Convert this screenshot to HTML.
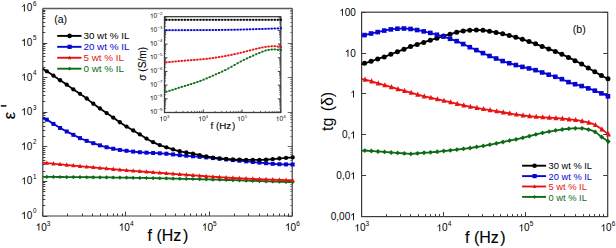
<!DOCTYPE html>
<html><head><meta charset="utf-8"><style>
html,body{margin:0;padding:0;background:#fff;}
body{width:616px;height:248px;overflow:hidden;}
svg{display:block;font-family:"Liberation Sans", sans-serif;}
text{stroke-width:0;}
.b{stroke-width:0.12px;}
.c{stroke-width:0.1px;}
</style></head><body>
<svg width="616" height="248" viewBox="0 0 616 248">
<rect width="616" height="248" fill="#fff"/>
<line x1="42.8" y1="216.5" x2="47.3" y2="216.5" stroke="#3c3c3c" stroke-width="1"/>
<line x1="292.2" y1="216.5" x2="287.7" y2="216.5" stroke="#6a6a6a" stroke-width="1"/>
<line x1="42.8" y1="205.5" x2="45.3" y2="205.5" stroke="#3c3c3c" stroke-width="1"/>
<line x1="292.2" y1="205.5" x2="290" y2="205.5" stroke="#999999" stroke-width="1"/>
<line x1="42.8" y1="199.5" x2="45.3" y2="199.5" stroke="#3c3c3c" stroke-width="1"/>
<line x1="292.2" y1="199.5" x2="290" y2="199.5" stroke="#999999" stroke-width="1"/>
<line x1="42.8" y1="195.5" x2="45.3" y2="195.5" stroke="#3c3c3c" stroke-width="1"/>
<line x1="292.2" y1="195.5" x2="290" y2="195.5" stroke="#999999" stroke-width="1"/>
<line x1="42.8" y1="191.5" x2="45.3" y2="191.5" stroke="#3c3c3c" stroke-width="1"/>
<line x1="292.2" y1="191.5" x2="290" y2="191.5" stroke="#999999" stroke-width="1"/>
<line x1="42.8" y1="189.5" x2="45.3" y2="189.5" stroke="#3c3c3c" stroke-width="1"/>
<line x1="292.2" y1="189.5" x2="290" y2="189.5" stroke="#999999" stroke-width="1"/>
<line x1="42.8" y1="186.5" x2="45.3" y2="186.5" stroke="#3c3c3c" stroke-width="1"/>
<line x1="292.2" y1="186.5" x2="290" y2="186.5" stroke="#999999" stroke-width="1"/>
<line x1="42.8" y1="184.5" x2="45.3" y2="184.5" stroke="#3c3c3c" stroke-width="1"/>
<line x1="292.2" y1="184.5" x2="290" y2="184.5" stroke="#999999" stroke-width="1"/>
<line x1="42.8" y1="182.5" x2="45.3" y2="182.5" stroke="#3c3c3c" stroke-width="1"/>
<line x1="292.2" y1="182.5" x2="290" y2="182.5" stroke="#999999" stroke-width="1"/>
<line x1="42.8" y1="181.5" x2="47.3" y2="181.5" stroke="#3c3c3c" stroke-width="1"/>
<line x1="292.2" y1="181.5" x2="287.7" y2="181.5" stroke="#6a6a6a" stroke-width="1"/>
<line x1="42.8" y1="171.5" x2="45.3" y2="171.5" stroke="#3c3c3c" stroke-width="1"/>
<line x1="292.2" y1="171.5" x2="290" y2="171.5" stroke="#999999" stroke-width="1"/>
<line x1="42.8" y1="164.5" x2="45.3" y2="164.5" stroke="#3c3c3c" stroke-width="1"/>
<line x1="292.2" y1="164.5" x2="290" y2="164.5" stroke="#999999" stroke-width="1"/>
<line x1="42.8" y1="160.5" x2="45.3" y2="160.5" stroke="#3c3c3c" stroke-width="1"/>
<line x1="292.2" y1="160.5" x2="290" y2="160.5" stroke="#999999" stroke-width="1"/>
<line x1="42.8" y1="157.5" x2="45.3" y2="157.5" stroke="#3c3c3c" stroke-width="1"/>
<line x1="292.2" y1="157.5" x2="290" y2="157.5" stroke="#999999" stroke-width="1"/>
<line x1="42.8" y1="154.5" x2="45.3" y2="154.5" stroke="#3c3c3c" stroke-width="1"/>
<line x1="292.2" y1="154.5" x2="290" y2="154.5" stroke="#999999" stroke-width="1"/>
<line x1="42.8" y1="152.5" x2="45.3" y2="152.5" stroke="#3c3c3c" stroke-width="1"/>
<line x1="292.2" y1="152.5" x2="290" y2="152.5" stroke="#999999" stroke-width="1"/>
<line x1="42.8" y1="150.5" x2="45.3" y2="150.5" stroke="#3c3c3c" stroke-width="1"/>
<line x1="292.2" y1="150.5" x2="290" y2="150.5" stroke="#999999" stroke-width="1"/>
<line x1="42.8" y1="148.5" x2="45.3" y2="148.5" stroke="#3c3c3c" stroke-width="1"/>
<line x1="292.2" y1="148.5" x2="290" y2="148.5" stroke="#999999" stroke-width="1"/>
<line x1="42.8" y1="146.5" x2="47.3" y2="146.5" stroke="#3c3c3c" stroke-width="1"/>
<line x1="292.2" y1="146.5" x2="287.7" y2="146.5" stroke="#6a6a6a" stroke-width="1"/>
<line x1="42.8" y1="136.5" x2="45.3" y2="136.5" stroke="#3c3c3c" stroke-width="1"/>
<line x1="292.2" y1="136.5" x2="290" y2="136.5" stroke="#999999" stroke-width="1"/>
<line x1="42.8" y1="130.5" x2="45.3" y2="130.5" stroke="#3c3c3c" stroke-width="1"/>
<line x1="292.2" y1="130.5" x2="290" y2="130.5" stroke="#999999" stroke-width="1"/>
<line x1="42.8" y1="126.5" x2="45.3" y2="126.5" stroke="#3c3c3c" stroke-width="1"/>
<line x1="292.2" y1="126.5" x2="290" y2="126.5" stroke="#999999" stroke-width="1"/>
<line x1="42.8" y1="122.5" x2="45.3" y2="122.5" stroke="#3c3c3c" stroke-width="1"/>
<line x1="292.2" y1="122.5" x2="290" y2="122.5" stroke="#999999" stroke-width="1"/>
<line x1="42.8" y1="119.5" x2="45.3" y2="119.5" stroke="#3c3c3c" stroke-width="1"/>
<line x1="292.2" y1="119.5" x2="290" y2="119.5" stroke="#999999" stroke-width="1"/>
<line x1="42.8" y1="117.5" x2="45.3" y2="117.5" stroke="#3c3c3c" stroke-width="1"/>
<line x1="292.2" y1="117.5" x2="290" y2="117.5" stroke="#999999" stroke-width="1"/>
<line x1="42.8" y1="115.5" x2="45.3" y2="115.5" stroke="#3c3c3c" stroke-width="1"/>
<line x1="292.2" y1="115.5" x2="290" y2="115.5" stroke="#999999" stroke-width="1"/>
<line x1="42.8" y1="113.5" x2="45.3" y2="113.5" stroke="#3c3c3c" stroke-width="1"/>
<line x1="292.2" y1="113.5" x2="290" y2="113.5" stroke="#999999" stroke-width="1"/>
<line x1="42.8" y1="112.5" x2="47.3" y2="112.5" stroke="#3c3c3c" stroke-width="1"/>
<line x1="292.2" y1="112.5" x2="287.7" y2="112.5" stroke="#6a6a6a" stroke-width="1"/>
<line x1="42.8" y1="101.5" x2="45.3" y2="101.5" stroke="#3c3c3c" stroke-width="1"/>
<line x1="292.2" y1="101.5" x2="290" y2="101.5" stroke="#999999" stroke-width="1"/>
<line x1="42.8" y1="95.5" x2="45.3" y2="95.5" stroke="#3c3c3c" stroke-width="1"/>
<line x1="292.2" y1="95.5" x2="290" y2="95.5" stroke="#999999" stroke-width="1"/>
<line x1="42.8" y1="91.5" x2="45.3" y2="91.5" stroke="#3c3c3c" stroke-width="1"/>
<line x1="292.2" y1="91.5" x2="290" y2="91.5" stroke="#999999" stroke-width="1"/>
<line x1="42.8" y1="88.5" x2="45.3" y2="88.5" stroke="#3c3c3c" stroke-width="1"/>
<line x1="292.2" y1="88.5" x2="290" y2="88.5" stroke="#999999" stroke-width="1"/>
<line x1="42.8" y1="85.5" x2="45.3" y2="85.5" stroke="#3c3c3c" stroke-width="1"/>
<line x1="292.2" y1="85.5" x2="290" y2="85.5" stroke="#999999" stroke-width="1"/>
<line x1="42.8" y1="83.5" x2="45.3" y2="83.5" stroke="#3c3c3c" stroke-width="1"/>
<line x1="292.2" y1="83.5" x2="290" y2="83.5" stroke="#999999" stroke-width="1"/>
<line x1="42.8" y1="81.5" x2="45.3" y2="81.5" stroke="#3c3c3c" stroke-width="1"/>
<line x1="292.2" y1="81.5" x2="290" y2="81.5" stroke="#999999" stroke-width="1"/>
<line x1="42.8" y1="79.5" x2="45.3" y2="79.5" stroke="#3c3c3c" stroke-width="1"/>
<line x1="292.2" y1="79.5" x2="290" y2="79.5" stroke="#999999" stroke-width="1"/>
<line x1="42.8" y1="77.5" x2="47.3" y2="77.5" stroke="#3c3c3c" stroke-width="1"/>
<line x1="292.2" y1="77.5" x2="287.7" y2="77.5" stroke="#6a6a6a" stroke-width="1"/>
<line x1="42.8" y1="67.5" x2="45.3" y2="67.5" stroke="#3c3c3c" stroke-width="1"/>
<line x1="292.2" y1="67.5" x2="290" y2="67.5" stroke="#999999" stroke-width="1"/>
<line x1="42.8" y1="61.5" x2="45.3" y2="61.5" stroke="#3c3c3c" stroke-width="1"/>
<line x1="292.2" y1="61.5" x2="290" y2="61.5" stroke="#999999" stroke-width="1"/>
<line x1="42.8" y1="56.5" x2="45.3" y2="56.5" stroke="#3c3c3c" stroke-width="1"/>
<line x1="292.2" y1="56.5" x2="290" y2="56.5" stroke="#999999" stroke-width="1"/>
<line x1="42.8" y1="53.5" x2="45.3" y2="53.5" stroke="#3c3c3c" stroke-width="1"/>
<line x1="292.2" y1="53.5" x2="290" y2="53.5" stroke="#999999" stroke-width="1"/>
<line x1="42.8" y1="50.5" x2="45.3" y2="50.5" stroke="#3c3c3c" stroke-width="1"/>
<line x1="292.2" y1="50.5" x2="290" y2="50.5" stroke="#999999" stroke-width="1"/>
<line x1="42.8" y1="48.5" x2="45.3" y2="48.5" stroke="#3c3c3c" stroke-width="1"/>
<line x1="292.2" y1="48.5" x2="290" y2="48.5" stroke="#999999" stroke-width="1"/>
<line x1="42.8" y1="46.5" x2="45.3" y2="46.5" stroke="#3c3c3c" stroke-width="1"/>
<line x1="292.2" y1="46.5" x2="290" y2="46.5" stroke="#999999" stroke-width="1"/>
<line x1="42.8" y1="44.5" x2="45.3" y2="44.5" stroke="#3c3c3c" stroke-width="1"/>
<line x1="292.2" y1="44.5" x2="290" y2="44.5" stroke="#999999" stroke-width="1"/>
<line x1="42.8" y1="43.5" x2="47.3" y2="43.5" stroke="#3c3c3c" stroke-width="1"/>
<line x1="292.2" y1="43.5" x2="287.7" y2="43.5" stroke="#6a6a6a" stroke-width="1"/>
<line x1="42.8" y1="32.5" x2="45.3" y2="32.5" stroke="#3c3c3c" stroke-width="1"/>
<line x1="292.2" y1="32.5" x2="290" y2="32.5" stroke="#999999" stroke-width="1"/>
<line x1="42.8" y1="26.5" x2="45.3" y2="26.5" stroke="#3c3c3c" stroke-width="1"/>
<line x1="292.2" y1="26.5" x2="290" y2="26.5" stroke="#999999" stroke-width="1"/>
<line x1="42.8" y1="22.5" x2="45.3" y2="22.5" stroke="#3c3c3c" stroke-width="1"/>
<line x1="292.2" y1="22.5" x2="290" y2="22.5" stroke="#999999" stroke-width="1"/>
<line x1="42.8" y1="18.5" x2="45.3" y2="18.5" stroke="#3c3c3c" stroke-width="1"/>
<line x1="292.2" y1="18.5" x2="290" y2="18.5" stroke="#999999" stroke-width="1"/>
<line x1="42.8" y1="16.5" x2="45.3" y2="16.5" stroke="#3c3c3c" stroke-width="1"/>
<line x1="292.2" y1="16.5" x2="290" y2="16.5" stroke="#999999" stroke-width="1"/>
<line x1="42.8" y1="13.5" x2="45.3" y2="13.5" stroke="#3c3c3c" stroke-width="1"/>
<line x1="292.2" y1="13.5" x2="290" y2="13.5" stroke="#999999" stroke-width="1"/>
<line x1="42.8" y1="11.5" x2="45.3" y2="11.5" stroke="#3c3c3c" stroke-width="1"/>
<line x1="292.2" y1="11.5" x2="290" y2="11.5" stroke="#999999" stroke-width="1"/>
<line x1="42.8" y1="10.5" x2="45.3" y2="10.5" stroke="#3c3c3c" stroke-width="1"/>
<line x1="292.2" y1="10.5" x2="290" y2="10.5" stroke="#999999" stroke-width="1"/>
<line x1="42.8" y1="8.5" x2="47.3" y2="8.5" stroke="#3c3c3c" stroke-width="1"/>
<line x1="292.2" y1="8.5" x2="287.7" y2="8.5" stroke="#6a6a6a" stroke-width="1"/>
<line x1="42.5" y1="216" x2="42.5" y2="211.5" stroke="#3c3c3c" stroke-width="1"/>
<line x1="67.5" y1="216" x2="67.5" y2="213.5" stroke="#3c3c3c" stroke-width="1"/>
<line x1="82.5" y1="216" x2="82.5" y2="213.5" stroke="#3c3c3c" stroke-width="1"/>
<line x1="92.5" y1="216" x2="92.5" y2="213.5" stroke="#3c3c3c" stroke-width="1"/>
<line x1="100.5" y1="216" x2="100.5" y2="213.5" stroke="#3c3c3c" stroke-width="1"/>
<line x1="107.5" y1="216" x2="107.5" y2="213.5" stroke="#3c3c3c" stroke-width="1"/>
<line x1="113.5" y1="216" x2="113.5" y2="213.5" stroke="#3c3c3c" stroke-width="1"/>
<line x1="117.5" y1="216" x2="117.5" y2="213.5" stroke="#3c3c3c" stroke-width="1"/>
<line x1="122.5" y1="216" x2="122.5" y2="213.5" stroke="#3c3c3c" stroke-width="1"/>
<line x1="125.5" y1="216" x2="125.5" y2="211.5" stroke="#3c3c3c" stroke-width="1"/>
<line x1="150.5" y1="216" x2="150.5" y2="213.5" stroke="#3c3c3c" stroke-width="1"/>
<line x1="165.5" y1="216" x2="165.5" y2="213.5" stroke="#3c3c3c" stroke-width="1"/>
<line x1="175.5" y1="216" x2="175.5" y2="213.5" stroke="#3c3c3c" stroke-width="1"/>
<line x1="184.5" y1="216" x2="184.5" y2="213.5" stroke="#3c3c3c" stroke-width="1"/>
<line x1="190.5" y1="216" x2="190.5" y2="213.5" stroke="#3c3c3c" stroke-width="1"/>
<line x1="196.5" y1="216" x2="196.5" y2="213.5" stroke="#3c3c3c" stroke-width="1"/>
<line x1="201.5" y1="216" x2="201.5" y2="213.5" stroke="#3c3c3c" stroke-width="1"/>
<line x1="205.5" y1="216" x2="205.5" y2="213.5" stroke="#3c3c3c" stroke-width="1"/>
<line x1="209.5" y1="216" x2="209.5" y2="211.5" stroke="#3c3c3c" stroke-width="1"/>
<line x1="234.5" y1="216" x2="234.5" y2="213.5" stroke="#3c3c3c" stroke-width="1"/>
<line x1="248.5" y1="216" x2="248.5" y2="213.5" stroke="#3c3c3c" stroke-width="1"/>
<line x1="259.5" y1="216" x2="259.5" y2="213.5" stroke="#3c3c3c" stroke-width="1"/>
<line x1="267.5" y1="216" x2="267.5" y2="213.5" stroke="#3c3c3c" stroke-width="1"/>
<line x1="273.5" y1="216" x2="273.5" y2="213.5" stroke="#3c3c3c" stroke-width="1"/>
<line x1="279.5" y1="216" x2="279.5" y2="213.5" stroke="#3c3c3c" stroke-width="1"/>
<line x1="284.5" y1="216" x2="284.5" y2="213.5" stroke="#3c3c3c" stroke-width="1"/>
<line x1="288.5" y1="216" x2="288.5" y2="213.5" stroke="#3c3c3c" stroke-width="1"/>
<line x1="292.5" y1="216" x2="292.5" y2="211.5" stroke="#3c3c3c" stroke-width="1"/>
<line x1="42.8" y1="8.5" x2="292.2" y2="8.5" stroke="#5a5a5a" stroke-width="1.3"/>
<path d="M292.2 8.5 V216.0 H42.8 V8.5" fill="none" stroke="#3c3c3c" stroke-width="1.2" stroke-linejoin="miter"/>
<path d="M24.8 218.9L23.92 218.9L23.92 213.3C23.7 213.51 23.42 213.72 23.07 213.93C22.72 214.13 22.41 214.29 22.13 214.4L22.13 213.55C22.61 213.32 23.03 213.05 23.39 212.73C23.75 212.41 24.01 212.08 24.16 211.74L24.8 211.74Z" fill="#000"/>
<text x="26.63" y="218.9" font-size="10" fill="#000" stroke="#000">0</text>
<text x="33" y="213.3" font-size="6.3" fill="#000" stroke="#000">0</text>
<path d="M24.8 184.32L23.92 184.32L23.92 178.72C23.7 178.93 23.42 179.14 23.07 179.35C22.72 179.55 22.41 179.71 22.13 179.82L22.13 178.97C22.61 178.74 23.03 178.47 23.39 178.15C23.75 177.83 24.01 177.5 24.16 177.16L24.8 177.16Z" fill="#000"/>
<text x="26.63" y="184.32" font-size="10" fill="#000" stroke="#000">0</text>
<text x="33" y="178.72" font-size="6.3" fill="#000" stroke="#000">1</text>
<path d="M24.8 149.73L23.92 149.73L23.92 144.13C23.7 144.34 23.42 144.55 23.07 144.76C22.72 144.96 22.41 145.12 22.13 145.23L22.13 144.38C22.61 144.15 23.03 143.88 23.39 143.56C23.75 143.24 24.01 142.91 24.16 142.57L24.8 142.57Z" fill="#000"/>
<text x="26.63" y="149.73" font-size="10" fill="#000" stroke="#000">0</text>
<text x="33" y="144.13" font-size="6.3" fill="#000" stroke="#000">2</text>
<path d="M24.8 115.15L23.92 115.15L23.92 109.55C23.7 109.76 23.42 109.97 23.07 110.18C22.72 110.38 22.41 110.54 22.13 110.65L22.13 109.8C22.61 109.57 23.03 109.3 23.39 108.98C23.75 108.66 24.01 108.33 24.16 107.99L24.8 107.99Z" fill="#000"/>
<text x="26.63" y="115.15" font-size="10" fill="#000" stroke="#000">0</text>
<text x="33" y="109.55" font-size="6.3" fill="#000" stroke="#000">3</text>
<path d="M24.8 80.57L23.92 80.57L23.92 74.97C23.7 75.18 23.42 75.39 23.07 75.6C22.72 75.8 22.41 75.96 22.13 76.07L22.13 75.22C22.61 74.99 23.03 74.72 23.39 74.4C23.75 74.08 24.01 73.75 24.16 73.41L24.8 73.41Z" fill="#000"/>
<text x="26.63" y="80.57" font-size="10" fill="#000" stroke="#000">0</text>
<text x="33" y="74.97" font-size="6.3" fill="#000" stroke="#000">4</text>
<path d="M24.8 45.98L23.92 45.98L23.92 40.38C23.7 40.59 23.42 40.8 23.07 41.01C22.72 41.21 22.41 41.37 22.13 41.48L22.13 40.63C22.61 40.4 23.03 40.13 23.39 39.81C23.75 39.49 24.01 39.16 24.16 38.82L24.8 38.82Z" fill="#000"/>
<text x="26.63" y="45.98" font-size="10" fill="#000" stroke="#000">0</text>
<text x="33" y="40.38" font-size="6.3" fill="#000" stroke="#000">5</text>
<path d="M24.8 11.4L23.92 11.4L23.92 5.8C23.7 6.01 23.42 6.22 23.07 6.43C22.72 6.63 22.41 6.79 22.13 6.9L22.13 6.05C22.61 5.82 23.03 5.55 23.39 5.23C23.75 4.91 24.01 4.58 24.16 4.24L24.8 4.24Z" fill="#000"/>
<text x="26.63" y="11.4" font-size="10" fill="#000" stroke="#000">0</text>
<text x="33" y="5.8" font-size="6.3" fill="#000" stroke="#000">6</text>
<path d="M39.37 230.5L38.49 230.5L38.49 224.9C38.27 225.11 37.99 225.32 37.64 225.53C37.29 225.73 36.98 225.89 36.7 226L36.7 225.15C37.18 224.92 37.6 224.65 37.96 224.33C38.32 224.01 38.58 223.68 38.73 223.34L39.37 223.34Z" fill="#000"/>
<text x="41.2" y="230.5" font-size="10" fill="#000" stroke="#000">0</text>
<text x="46.8" y="225.6" font-size="6.5" fill="#000" stroke="#000">3</text>
<path d="M122.5 230.5L121.62 230.5L121.62 224.9C121.4 225.11 121.12 225.32 120.77 225.53C120.42 225.73 120.11 225.89 119.83 226L119.83 225.15C120.31 224.92 120.73 224.65 121.09 224.33C121.45 224.01 121.71 223.68 121.86 223.34L122.5 223.34Z" fill="#000"/>
<text x="124.33" y="230.5" font-size="10" fill="#000" stroke="#000">0</text>
<text x="129.93" y="225.6" font-size="6.5" fill="#000" stroke="#000">4</text>
<path d="M205.64 230.5L204.76 230.5L204.76 224.9C204.54 225.11 204.26 225.32 203.91 225.53C203.56 225.73 203.25 225.89 202.97 226L202.97 225.15C203.45 224.92 203.87 224.65 204.23 224.33C204.59 224.01 204.85 223.68 205 223.34L205.64 223.34Z" fill="#000"/>
<text x="207.47" y="230.5" font-size="10" fill="#000" stroke="#000">0</text>
<text x="213.07" y="225.6" font-size="6.5" fill="#000" stroke="#000">5</text>
<path d="M288.77 230.5L287.89 230.5L287.89 224.9C287.67 225.11 287.39 225.32 287.04 225.53C286.69 225.73 286.38 225.89 286.1 226L286.1 225.15C286.58 224.92 287 224.65 287.36 224.33C287.72 224.01 287.98 223.68 288.13 223.34L288.77 223.34Z" fill="#000"/>
<text x="290.6" y="230.5" font-size="10" fill="#000" stroke="#000">0</text>
<text x="296.2" y="225.6" font-size="6.5" fill="#000" stroke="#000">6</text>
<path d="M42.8 176.9 L44.37 176.91 L45.94 176.92 L47.51 176.92 L49.07 176.93 L50.64 176.94 L52.21 176.95 L53.78 176.96 L55.35 176.97 L56.92 176.98 L58.49 176.99 L60.05 177 L61.62 177.01 L63.19 177.02 L64.76 177.04 L66.33 177.05 L67.9 177.06 L69.47 177.07 L71.03 177.08 L72.6 177.1 L74.17 177.11 L75.74 177.12 L77.31 177.14 L78.88 177.15 L80.45 177.17 L82.01 177.18 L83.58 177.2 L85.15 177.21 L86.72 177.23 L88.29 177.24 L89.86 177.26 L91.43 177.27 L92.99 177.29 L94.56 177.3 L96.13 177.32 L97.7 177.33 L99.27 177.35 L100.84 177.37 L102.41 177.38 L103.97 177.4 L105.54 177.42 L107.11 177.43 L108.68 177.45 L110.25 177.47 L111.82 177.49 L113.38 177.51 L114.95 177.53 L116.52 177.55 L118.09 177.57 L119.66 177.59 L121.23 177.61 L122.8 177.63 L124.36 177.66 L125.93 177.68 L127.5 177.7 L129.07 177.73 L130.64 177.75 L132.21 177.77 L133.78 177.8 L135.34 177.82 L136.91 177.85 L138.48 177.88 L140.05 177.9 L141.62 177.93 L143.19 177.95 L144.76 177.98 L146.32 178.01 L147.89 178.04 L149.46 178.07 L151.03 178.1 L152.6 178.13 L154.17 178.16 L155.74 178.19 L157.3 178.23 L158.87 178.26 L160.44 178.29 L162.01 178.33 L163.58 178.36 L165.15 178.39 L166.72 178.43 L168.28 178.46 L169.85 178.5 L171.42 178.53 L172.99 178.57 L174.56 178.6 L176.13 178.64 L177.7 178.67 L179.26 178.71 L180.83 178.75 L182.4 178.78 L183.97 178.82 L185.54 178.86 L187.11 178.89 L188.68 178.93 L190.24 178.97 L191.81 179.01 L193.38 179.04 L194.95 179.08 L196.52 179.12 L198.09 179.16 L199.66 179.2 L201.22 179.24 L202.79 179.28 L204.36 179.32 L205.93 179.36 L207.5 179.4 L209.07 179.45 L210.64 179.49 L212.2 179.53 L213.77 179.57 L215.34 179.62 L216.91 179.66 L218.48 179.7 L220.05 179.75 L221.62 179.79 L223.18 179.84 L224.75 179.88 L226.32 179.93 L227.89 179.98 L229.46 180.02 L231.03 180.07 L232.59 180.12 L234.16 180.17 L235.73 180.22 L237.3 180.27 L238.87 180.33 L240.44 180.38 L242.01 180.44 L243.57 180.5 L245.14 180.56 L246.71 180.62 L248.28 180.68 L249.85 180.74 L251.42 180.79 L252.99 180.85 L254.55 180.91 L256.12 180.97 L257.69 181.02 L259.26 181.08 L260.83 181.13 L262.4 181.18 L263.97 181.23 L265.53 181.28 L267.1 181.33 L268.67 181.38 L270.24 181.43 L271.81 181.48 L273.38 181.53 L274.95 181.58 L276.51 181.63 L278.08 181.68 L279.65 181.73 L281.22 181.78 L282.79 181.82 L284.36 181.87 L285.93 181.92 L287.49 181.96 L289.06 182.01 L290.63 182.05 L292.2 182.1" fill="none" stroke="#0d6b16" stroke-width="1.8" stroke-linejoin="round"/>
<g fill="#0d6b16"><path d="M46.8 174.83L48.89 176.92L46.8 179.01L44.71 176.92Z"/><path d="M53.44 174.87L55.53 176.96L53.44 179.05L51.35 176.96Z"/><path d="M60.09 174.91L62.18 177L60.09 179.09L58 177Z"/><path d="M66.73 174.96L68.83 177.05L66.73 179.14L64.64 177.05Z"/><path d="M73.38 175.01L75.47 177.1L73.38 179.19L71.29 177.1Z"/><path d="M80.02 175.07L82.11 177.16L80.02 179.25L77.93 177.16Z"/><path d="M86.67 175.13L88.76 177.22L86.67 179.31L84.58 177.22Z"/><path d="M93.31 175.2L95.41 177.29L93.31 179.38L91.22 177.29Z"/><path d="M99.96 175.27L102.05 177.36L99.96 179.45L97.87 177.36Z"/><path d="M106.6 175.34L108.69 177.43L106.6 179.52L104.51 177.43Z"/><path d="M113.25 175.42L115.34 177.51L113.25 179.6L111.16 177.51Z"/><path d="M119.89 175.5L121.98 177.59L119.89 179.68L117.8 177.59Z"/><path d="M126.54 175.6L128.63 177.69L126.54 179.78L124.45 177.69Z"/><path d="M133.19 175.7L135.28 177.79L133.19 179.88L131.09 177.79Z"/><path d="M139.83 175.81L141.92 177.9L139.83 179.99L137.74 177.9Z"/><path d="M146.47 175.92L148.56 178.01L146.47 180.1L144.38 178.01Z"/><path d="M153.12 176.05L155.21 178.14L153.12 180.23L151.03 178.14Z"/><path d="M159.76 176.19L161.85 178.28L159.76 180.37L157.67 178.28Z"/><path d="M166.41 176.33L168.5 178.42L166.41 180.51L164.32 178.42Z"/><path d="M173.06 176.48L175.15 178.57L173.06 180.66L170.97 178.57Z"/><path d="M179.7 176.63L181.79 178.72L179.7 180.81L177.61 178.72Z"/><path d="M186.34 176.78L188.43 178.87L186.34 180.96L184.25 178.87Z"/><path d="M192.99 176.94L195.08 179.03L192.99 181.12L190.9 179.03Z"/><path d="M199.63 177.11L201.72 179.2L199.63 181.29L197.54 179.2Z"/><path d="M206.28 177.28L208.37 179.37L206.28 181.46L204.19 179.37Z"/><path d="M212.93 177.46L215.02 179.55L212.93 181.64L210.84 179.55Z"/><path d="M219.57 177.64L221.66 179.73L219.57 181.82L217.48 179.73Z"/><path d="M226.21 177.84L228.3 179.93L226.21 182.02L224.12 179.93Z"/><path d="M232.86 178.04L234.95 180.13L232.86 182.22L230.77 180.13Z"/><path d="M239.5 178.26L241.59 180.35L239.5 182.44L237.41 180.35Z"/><path d="M246.15 178.51L248.24 180.6L246.15 182.69L244.06 180.6Z"/><path d="M252.79 178.76L254.88 180.85L252.79 182.94L250.7 180.85Z"/><path d="M259.44 178.99L261.53 181.08L259.44 183.17L257.35 181.08Z"/><path d="M266.08 179.21L268.17 181.3L266.08 183.39L264 181.3Z"/><path d="M272.73 179.42L274.82 181.51L272.73 183.6L270.64 181.51Z"/><path d="M279.38 179.63L281.46 181.72L279.38 183.81L277.29 181.72Z"/><path d="M286.02 179.83L288.11 181.92L286.02 184.01L283.93 181.92Z"/><path d="M292.66 180.02L294.75 182.11L292.66 184.2L290.57 182.11Z"/></g>
<path d="M42.8 162.7 L44.37 162.85 L45.94 163 L47.51 163.15 L49.07 163.3 L50.64 163.45 L52.21 163.6 L53.78 163.75 L55.35 163.9 L56.92 164.05 L58.49 164.2 L60.05 164.34 L61.62 164.49 L63.19 164.64 L64.76 164.79 L66.33 164.93 L67.9 165.08 L69.47 165.23 L71.03 165.37 L72.6 165.52 L74.17 165.66 L75.74 165.81 L77.31 165.95 L78.88 166.1 L80.45 166.24 L82.01 166.38 L83.58 166.53 L85.15 166.67 L86.72 166.81 L88.29 166.95 L89.86 167.1 L91.43 167.24 L92.99 167.38 L94.56 167.52 L96.13 167.66 L97.7 167.8 L99.27 167.94 L100.84 168.08 L102.41 168.22 L103.97 168.36 L105.54 168.5 L107.11 168.65 L108.68 168.79 L110.25 168.93 L111.82 169.08 L113.38 169.22 L114.95 169.36 L116.52 169.5 L118.09 169.64 L119.66 169.77 L121.23 169.9 L122.8 170.03 L124.36 170.16 L125.93 170.29 L127.5 170.41 L129.07 170.54 L130.64 170.66 L132.21 170.79 L133.78 170.91 L135.34 171.03 L136.91 171.15 L138.48 171.27 L140.05 171.39 L141.62 171.51 L143.19 171.63 L144.76 171.75 L146.32 171.87 L147.89 171.98 L149.46 172.1 L151.03 172.22 L152.6 172.33 L154.17 172.45 L155.74 172.56 L157.3 172.68 L158.87 172.79 L160.44 172.91 L162.01 173.02 L163.58 173.13 L165.15 173.25 L166.72 173.36 L168.28 173.48 L169.85 173.59 L171.42 173.7 L172.99 173.82 L174.56 173.93 L176.13 174.05 L177.7 174.17 L179.26 174.28 L180.83 174.4 L182.4 174.52 L183.97 174.63 L185.54 174.75 L187.11 174.87 L188.68 174.98 L190.24 175.1 L191.81 175.22 L193.38 175.33 L194.95 175.45 L196.52 175.57 L198.09 175.68 L199.66 175.79 L201.22 175.91 L202.79 176.02 L204.36 176.13 L205.93 176.24 L207.5 176.36 L209.07 176.46 L210.64 176.57 L212.2 176.68 L213.77 176.79 L215.34 176.89 L216.91 176.99 L218.48 177.09 L220.05 177.19 L221.62 177.29 L223.18 177.39 L224.75 177.49 L226.32 177.58 L227.89 177.67 L229.46 177.76 L231.03 177.85 L232.59 177.93 L234.16 178.02 L235.73 178.1 L237.3 178.18 L238.87 178.26 L240.44 178.34 L242.01 178.41 L243.57 178.49 L245.14 178.56 L246.71 178.63 L248.28 178.71 L249.85 178.78 L251.42 178.84 L252.99 178.91 L254.55 178.98 L256.12 179.04 L257.69 179.11 L259.26 179.17 L260.83 179.23 L262.4 179.29 L263.97 179.35 L265.53 179.41 L267.1 179.47 L268.67 179.53 L270.24 179.59 L271.81 179.65 L273.38 179.7 L274.95 179.76 L276.51 179.81 L278.08 179.87 L279.65 179.92 L281.22 179.97 L282.79 180.02 L284.36 180.07 L285.93 180.12 L287.49 180.16 L289.06 180.21 L290.63 180.26 L292.2 180.3" fill="none" stroke="#e81212" stroke-width="1.8" stroke-linejoin="round"/>
<g fill="#e81212"><path d="M46.8 160.48L48.9 164.78L44.7 164.78Z"/><path d="M53.44 161.12L55.54 165.42L51.34 165.42Z"/><path d="M60.09 161.75L62.19 166.05L57.99 166.05Z"/><path d="M66.73 162.37L68.83 166.67L64.64 166.67Z"/><path d="M73.38 162.99L75.48 167.29L71.28 167.29Z"/><path d="M80.02 163.6L82.12 167.9L77.92 167.9Z"/><path d="M86.67 164.21L88.77 168.51L84.57 168.51Z"/><path d="M93.31 164.81L95.41 169.11L91.22 169.11Z"/><path d="M99.96 165.4L102.06 169.7L97.86 169.7Z"/><path d="M106.6 166L108.7 170.3L104.5 170.3Z"/><path d="M113.25 166.61L115.35 170.91L111.15 170.91Z"/><path d="M119.89 167.19L121.99 171.49L117.8 171.49Z"/><path d="M126.54 167.74L128.64 172.04L124.44 172.04Z"/><path d="M133.19 168.26L135.28 172.56L131.09 172.56Z"/><path d="M139.83 168.78L141.93 173.08L137.73 173.08Z"/><path d="M146.47 169.28L148.57 173.58L144.38 173.58Z"/><path d="M153.12 169.77L155.22 174.07L151.02 174.07Z"/><path d="M159.76 170.26L161.86 174.56L157.66 174.56Z"/><path d="M166.41 170.74L168.51 175.04L164.31 175.04Z"/><path d="M173.06 171.22L175.16 175.52L170.96 175.52Z"/><path d="M179.7 171.71L181.8 176.01L177.6 176.01Z"/><path d="M186.34 172.21L188.44 176.51L184.24 176.51Z"/><path d="M192.99 172.71L195.09 177.01L190.89 177.01Z"/><path d="M199.63 173.19L201.73 177.49L197.53 177.49Z"/><path d="M206.28 173.67L208.38 177.97L204.18 177.97Z"/><path d="M212.93 174.13L215.03 178.43L210.83 178.43Z"/><path d="M219.57 174.56L221.67 178.86L217.47 178.86Z"/><path d="M226.21 174.97L228.31 179.27L224.11 179.27Z"/><path d="M232.86 175.35L234.96 179.65L230.76 179.65Z"/><path d="M239.5 175.69L241.6 179.99L237.41 179.99Z"/><path d="M246.15 176.01L248.25 180.31L244.05 180.31Z"/><path d="M252.79 176.3L254.89 180.6L250.69 180.6Z"/><path d="M259.44 176.58L261.54 180.88L257.34 180.88Z"/><path d="M266.08 176.84L268.19 181.14L263.98 181.14Z"/><path d="M272.73 177.08L274.83 181.38L270.63 181.38Z"/><path d="M279.38 177.31L281.48 181.61L277.27 181.61Z"/><path d="M286.02 177.52L288.12 181.82L283.92 181.82Z"/><path d="M292.66 177.71L294.76 182.01L290.56 182.01Z"/></g>
<path d="M42.8 117.5 L44.37 118.32 L45.94 119.19 L47.51 120.12 L49.07 121.11 L50.64 122.12 L52.21 123.14 L53.78 124.13 L55.35 125.11 L56.92 126.1 L58.49 127.05 L60.05 127.96 L61.62 128.82 L63.19 129.64 L64.76 130.46 L66.33 131.27 L67.9 132.07 L69.47 132.87 L71.03 133.66 L72.6 134.45 L74.17 135.25 L75.74 136.05 L77.31 136.85 L78.88 137.6 L80.45 138.31 L82.01 138.99 L83.58 139.65 L85.15 140.27 L86.72 140.87 L88.29 141.44 L89.86 141.99 L91.43 142.53 L92.99 143.07 L94.56 143.6 L96.13 144.12 L97.7 144.63 L99.27 145.13 L100.84 145.61 L102.41 146.08 L103.97 146.53 L105.54 146.95 L107.11 147.36 L108.68 147.74 L110.25 148.11 L111.82 148.45 L113.38 148.78 L114.95 149.09 L116.52 149.38 L118.09 149.65 L119.66 149.9 L121.23 150.12 L122.8 150.33 L124.36 150.52 L125.93 150.72 L127.5 150.91 L129.07 151.11 L130.64 151.31 L132.21 151.49 L133.78 151.68 L135.34 151.85 L136.91 152 L138.48 152.14 L140.05 152.26 L141.62 152.37 L143.19 152.47 L144.76 152.57 L146.32 152.65 L147.89 152.73 L149.46 152.81 L151.03 152.88 L152.6 152.95 L154.17 153.02 L155.74 153.1 L157.3 153.17 L158.87 153.25 L160.44 153.34 L162.01 153.43 L163.58 153.53 L165.15 153.64 L166.72 153.76 L168.28 153.9 L169.85 154.07 L171.42 154.24 L172.99 154.43 L174.56 154.62 L176.13 154.8 L177.7 154.97 L179.26 155.12 L180.83 155.27 L182.4 155.41 L183.97 155.54 L185.54 155.67 L187.11 155.8 L188.68 155.93 L190.24 156.05 L191.81 156.18 L193.38 156.32 L194.95 156.45 L196.52 156.58 L198.09 156.7 L199.66 156.84 L201.22 156.97 L202.79 157.1 L204.36 157.24 L205.93 157.39 L207.5 157.54 L209.07 157.69 L210.64 157.85 L212.2 158.01 L213.77 158.17 L215.34 158.33 L216.91 158.49 L218.48 158.65 L220.05 158.8 L221.62 158.96 L223.18 159.11 L224.75 159.27 L226.32 159.42 L227.89 159.58 L229.46 159.73 L231.03 159.89 L232.59 160.04 L234.16 160.19 L235.73 160.34 L237.3 160.5 L238.87 160.65 L240.44 160.8 L242.01 160.95 L243.57 161.11 L245.14 161.26 L246.71 161.41 L248.28 161.56 L249.85 161.72 L251.42 161.87 L252.99 162.02 L254.55 162.16 L256.12 162.31 L257.69 162.45 L259.26 162.59 L260.83 162.73 L262.4 162.87 L263.97 163.02 L265.53 163.17 L267.1 163.32 L268.67 163.47 L270.24 163.61 L271.81 163.74 L273.38 163.87 L274.95 163.98 L276.51 164.07 L278.08 164.15 L279.65 164.21 L281.22 164.27 L282.79 164.32 L284.36 164.37 L285.93 164.41 L287.49 164.45 L289.06 164.47 L290.63 164.49 L292.2 164.5" fill="none" stroke="#0606d2" stroke-width="1.8" stroke-linejoin="round"/>
<g fill="#0606d2"><rect x="44.8" y="117.69" width="4" height="4"/><rect x="51.44" y="121.92" width="4" height="4"/><rect x="58.09" y="125.98" width="4" height="4"/><rect x="64.73" y="129.48" width="4" height="4"/><rect x="71.38" y="132.84" width="4" height="4"/><rect x="78.02" y="136.13" width="4" height="4"/><rect x="84.67" y="138.85" width="4" height="4"/><rect x="91.31" y="141.18" width="4" height="4"/><rect x="97.96" y="143.34" width="4" height="4"/><rect x="104.6" y="145.23" width="4" height="4"/><rect x="111.25" y="146.75" width="4" height="4"/><rect x="117.89" y="147.93" width="4" height="4"/><rect x="124.54" y="148.79" width="4" height="4"/><rect x="131.19" y="149.61" width="4" height="4"/><rect x="137.83" y="150.25" width="4" height="4"/><rect x="144.47" y="150.66" width="4" height="4"/><rect x="151.12" y="150.98" width="4" height="4"/><rect x="157.76" y="151.3" width="4" height="4"/><rect x="164.41" y="151.73" width="4" height="4"/><rect x="171.06" y="152.44" width="4" height="4"/><rect x="177.7" y="153.17" width="4" height="4"/><rect x="184.34" y="153.74" width="4" height="4"/><rect x="190.99" y="154.28" width="4" height="4"/><rect x="197.63" y="154.83" width="4" height="4"/><rect x="204.28" y="155.42" width="4" height="4"/><rect x="210.93" y="156.08" width="4" height="4"/><rect x="217.57" y="156.76" width="4" height="4"/><rect x="224.21" y="157.41" width="4" height="4"/><rect x="230.86" y="158.07" width="4" height="4"/><rect x="237.5" y="158.71" width="4" height="4"/><rect x="244.15" y="159.36" width="4" height="4"/><rect x="250.79" y="160" width="4" height="4"/><rect x="257.44" y="160.6" width="4" height="4"/><rect x="264.08" y="161.23" width="4" height="4"/><rect x="270.73" y="161.82" width="4" height="4"/><rect x="277.38" y="162.2" width="4" height="4"/><rect x="284.02" y="162.41" width="4" height="4"/><rect x="290.66" y="162.5" width="4" height="4"/></g>
<path d="M42.8 68.8 L44.37 69.78 L45.94 70.78 L47.51 71.79 L49.07 72.8 L50.64 73.83 L52.21 74.87 L53.78 75.94 L55.35 77.02 L56.92 78.11 L58.49 79.18 L60.05 80.24 L61.62 81.27 L63.19 82.29 L64.76 83.32 L66.33 84.39 L67.9 85.5 L69.47 86.64 L71.03 87.78 L72.6 88.88 L74.17 89.92 L75.74 90.95 L77.31 91.97 L78.88 93.01 L80.45 94.08 L82.01 95.15 L83.58 96.25 L85.15 97.37 L86.72 98.55 L88.29 99.82 L89.86 101.1 L91.43 102.32 L92.99 103.49 L94.56 104.65 L96.13 105.78 L97.7 106.9 L99.27 108 L100.84 109.09 L102.41 110.18 L103.97 111.26 L105.54 112.33 L107.11 113.41 L108.68 114.49 L110.25 115.57 L111.82 116.66 L113.38 117.75 L114.95 118.85 L116.52 119.93 L118.09 121.02 L119.66 122.09 L121.23 123.14 L122.8 124.18 L124.36 125.2 L125.93 126.19 L127.5 127.15 L129.07 128.1 L130.64 129.02 L132.21 129.94 L133.78 130.85 L135.34 131.76 L136.91 132.67 L138.48 133.59 L140.05 134.53 L141.62 135.5 L143.19 136.49 L144.76 137.49 L146.32 138.48 L147.89 139.42 L149.46 140.31 L151.03 141.13 L152.6 141.93 L154.17 142.69 L155.74 143.42 L157.3 144.11 L158.87 144.76 L160.44 145.37 L162.01 145.92 L163.58 146.43 L165.15 146.93 L166.72 147.43 L168.28 147.94 L169.85 148.45 L171.42 148.95 L172.99 149.45 L174.56 149.92 L176.13 150.37 L177.7 150.79 L179.26 151.16 L180.83 151.5 L182.4 151.8 L183.97 152.09 L185.54 152.36 L187.11 152.63 L188.68 152.89 L190.24 153.17 L191.81 153.46 L193.38 153.78 L194.95 154.11 L196.52 154.45 L198.09 154.79 L199.66 155.13 L201.22 155.47 L202.79 155.78 L204.36 156.08 L205.93 156.36 L207.5 156.64 L209.07 156.91 L210.64 157.17 L212.2 157.42 L213.77 157.66 L215.34 157.88 L216.91 158.08 L218.48 158.25 L220.05 158.42 L221.62 158.58 L223.18 158.73 L224.75 158.87 L226.32 159 L227.89 159.11 L229.46 159.21 L231.03 159.3 L232.59 159.38 L234.16 159.45 L235.73 159.53 L237.3 159.59 L238.87 159.65 L240.44 159.7 L242.01 159.75 L243.57 159.78 L245.14 159.8 L246.71 159.82 L248.28 159.84 L249.85 159.85 L251.42 159.86 L252.99 159.88 L254.55 159.89 L256.12 159.89 L257.69 159.9 L259.26 159.9 L260.83 159.89 L262.4 159.84 L263.97 159.77 L265.53 159.69 L267.1 159.59 L268.67 159.49 L270.24 159.38 L271.81 159.26 L273.38 159.11 L274.95 158.94 L276.51 158.77 L278.08 158.61 L279.65 158.47 L281.22 158.34 L282.79 158.2 L284.36 158.08 L285.93 157.95 L287.49 157.83 L289.06 157.72 L290.63 157.61 L292.2 157.5" fill="none" stroke="#000000" stroke-width="1.8" stroke-linejoin="round"/>
<g fill="#000000"><circle cx="46.8" cy="71.33" r="2.15"/><circle cx="53.44" cy="75.71" r="2.15"/><circle cx="60.09" cy="80.26" r="2.15"/><circle cx="66.73" cy="84.67" r="2.15"/><circle cx="73.38" cy="89.4" r="2.15"/><circle cx="80.02" cy="93.79" r="2.15"/><circle cx="86.67" cy="98.51" r="2.15"/><circle cx="93.31" cy="103.73" r="2.15"/><circle cx="99.96" cy="108.48" r="2.15"/><circle cx="106.6" cy="113.06" r="2.15"/><circle cx="113.25" cy="117.66" r="2.15"/><circle cx="119.89" cy="122.25" r="2.15"/><circle cx="126.54" cy="126.56" r="2.15"/><circle cx="133.19" cy="130.51" r="2.15"/><circle cx="139.83" cy="134.4" r="2.15"/><circle cx="146.47" cy="138.57" r="2.15"/><circle cx="153.12" cy="142.18" r="2.15"/><circle cx="159.76" cy="145.11" r="2.15"/><circle cx="166.41" cy="147.33" r="2.15"/><circle cx="173.06" cy="149.47" r="2.15"/><circle cx="179.7" cy="151.26" r="2.15"/><circle cx="186.34" cy="152.5" r="2.15"/><circle cx="192.99" cy="153.7" r="2.15"/><circle cx="199.63" cy="155.13" r="2.15"/><circle cx="206.28" cy="156.43" r="2.15"/><circle cx="212.93" cy="157.53" r="2.15"/><circle cx="219.57" cy="158.37" r="2.15"/><circle cx="226.21" cy="158.99" r="2.15"/><circle cx="232.86" cy="159.39" r="2.15"/><circle cx="239.5" cy="159.67" r="2.15"/><circle cx="246.15" cy="159.81" r="2.15"/><circle cx="252.79" cy="159.88" r="2.15"/><circle cx="259.44" cy="159.9" r="2.15"/><circle cx="266.08" cy="159.65" r="2.15"/><circle cx="272.73" cy="159.17" r="2.15"/><circle cx="279.38" cy="158.49" r="2.15"/><circle cx="286.02" cy="157.95" r="2.15"/><circle cx="292.66" cy="157.47" r="2.15"/></g>
<text x="54.14" y="22.9" font-size="10.6" text-anchor="start" fill="#000" stroke="#000" >(a)</text>
<line x1="57.2" y1="35.9" x2="81.5" y2="35.9" stroke="#000000" stroke-width="1.9"/>
<g fill="#000000"><circle cx="69.6" cy="35.9" r="2.3"/></g>
<text x="83.4" y="39.4" font-size="9.9" text-anchor="start" fill="#000000" stroke="#000000" >30 wt % IL</text>
<line x1="57.2" y1="46.83" x2="81.5" y2="46.83" stroke="#0606d2" stroke-width="1.9"/>
<g fill="#0606d2"><rect x="67.5" y="44.73" width="4.2" height="4.2"/></g>
<text x="83.4" y="50.33" font-size="9.9" text-anchor="start" fill="#0606d2" stroke="#0606d2" >20 wt % IL</text>
<line x1="57.2" y1="57.76" x2="81.5" y2="57.76" stroke="#e81212" stroke-width="1.9"/>
<g fill="#e81212"><path d="M69.6 55.55L71.38 59.2L67.81 59.2Z"/></g>
<text x="83.4" y="61.26" font-size="9.9" text-anchor="start" fill="#e81212" stroke="#e81212" >5 wt % IL</text>
<line x1="57.2" y1="68.69" x2="81.5" y2="68.69" stroke="#0d6b16" stroke-width="1.9"/>
<g fill="#0d6b16"><path d="M69.6 66.82L71.47 68.69L69.6 70.56L67.73 68.69Z"/></g>
<text x="83.4" y="72.19" font-size="9.9" text-anchor="start" fill="#0d6b16" stroke="#0d6b16" >0 wt % IL</text>
<rect x="164.5" y="16.7" width="116.3" height="95.8" fill="#fff" stroke="none"/>
<line x1="164.5" y1="112.5" x2="167.5" y2="112.5" stroke="#3c3c3c" stroke-width="1"/>
<line x1="280.8" y1="112.5" x2="277.8" y2="112.5" stroke="#3c3c3c" stroke-width="1"/>
<line x1="164.5" y1="108.38" x2="166.1" y2="108.38" stroke="#3c3c3c" stroke-width="0.8"/>
<line x1="280.8" y1="108.38" x2="279.2" y2="108.38" stroke="#3c3c3c" stroke-width="0.8"/>
<line x1="164.5" y1="105.97" x2="166.1" y2="105.97" stroke="#3c3c3c" stroke-width="0.8"/>
<line x1="280.8" y1="105.97" x2="279.2" y2="105.97" stroke="#3c3c3c" stroke-width="0.8"/>
<line x1="164.5" y1="104.26" x2="166.1" y2="104.26" stroke="#3c3c3c" stroke-width="0.8"/>
<line x1="280.8" y1="104.26" x2="279.2" y2="104.26" stroke="#3c3c3c" stroke-width="0.8"/>
<line x1="164.5" y1="102.93" x2="166.1" y2="102.93" stroke="#3c3c3c" stroke-width="0.8"/>
<line x1="280.8" y1="102.93" x2="279.2" y2="102.93" stroke="#3c3c3c" stroke-width="0.8"/>
<line x1="164.5" y1="101.85" x2="166.1" y2="101.85" stroke="#3c3c3c" stroke-width="0.8"/>
<line x1="280.8" y1="101.85" x2="279.2" y2="101.85" stroke="#3c3c3c" stroke-width="0.8"/>
<line x1="164.5" y1="100.93" x2="166.1" y2="100.93" stroke="#3c3c3c" stroke-width="0.8"/>
<line x1="280.8" y1="100.93" x2="279.2" y2="100.93" stroke="#3c3c3c" stroke-width="0.8"/>
<line x1="164.5" y1="100.14" x2="166.1" y2="100.14" stroke="#3c3c3c" stroke-width="0.8"/>
<line x1="280.8" y1="100.14" x2="279.2" y2="100.14" stroke="#3c3c3c" stroke-width="0.8"/>
<line x1="164.5" y1="99.44" x2="166.1" y2="99.44" stroke="#3c3c3c" stroke-width="0.8"/>
<line x1="280.8" y1="99.44" x2="279.2" y2="99.44" stroke="#3c3c3c" stroke-width="0.8"/>
<line x1="164.5" y1="98.81" x2="167.5" y2="98.81" stroke="#3c3c3c" stroke-width="1"/>
<line x1="280.8" y1="98.81" x2="277.8" y2="98.81" stroke="#3c3c3c" stroke-width="1"/>
<line x1="164.5" y1="94.69" x2="166.1" y2="94.69" stroke="#3c3c3c" stroke-width="0.8"/>
<line x1="280.8" y1="94.69" x2="279.2" y2="94.69" stroke="#3c3c3c" stroke-width="0.8"/>
<line x1="164.5" y1="92.28" x2="166.1" y2="92.28" stroke="#3c3c3c" stroke-width="0.8"/>
<line x1="280.8" y1="92.28" x2="279.2" y2="92.28" stroke="#3c3c3c" stroke-width="0.8"/>
<line x1="164.5" y1="90.57" x2="166.1" y2="90.57" stroke="#3c3c3c" stroke-width="0.8"/>
<line x1="280.8" y1="90.57" x2="279.2" y2="90.57" stroke="#3c3c3c" stroke-width="0.8"/>
<line x1="164.5" y1="89.25" x2="166.1" y2="89.25" stroke="#3c3c3c" stroke-width="0.8"/>
<line x1="280.8" y1="89.25" x2="279.2" y2="89.25" stroke="#3c3c3c" stroke-width="0.8"/>
<line x1="164.5" y1="88.16" x2="166.1" y2="88.16" stroke="#3c3c3c" stroke-width="0.8"/>
<line x1="280.8" y1="88.16" x2="279.2" y2="88.16" stroke="#3c3c3c" stroke-width="0.8"/>
<line x1="164.5" y1="87.25" x2="166.1" y2="87.25" stroke="#3c3c3c" stroke-width="0.8"/>
<line x1="280.8" y1="87.25" x2="279.2" y2="87.25" stroke="#3c3c3c" stroke-width="0.8"/>
<line x1="164.5" y1="86.45" x2="166.1" y2="86.45" stroke="#3c3c3c" stroke-width="0.8"/>
<line x1="280.8" y1="86.45" x2="279.2" y2="86.45" stroke="#3c3c3c" stroke-width="0.8"/>
<line x1="164.5" y1="85.75" x2="166.1" y2="85.75" stroke="#3c3c3c" stroke-width="0.8"/>
<line x1="280.8" y1="85.75" x2="279.2" y2="85.75" stroke="#3c3c3c" stroke-width="0.8"/>
<line x1="164.5" y1="85.13" x2="167.5" y2="85.13" stroke="#3c3c3c" stroke-width="1"/>
<line x1="280.8" y1="85.13" x2="277.8" y2="85.13" stroke="#3c3c3c" stroke-width="1"/>
<line x1="164.5" y1="81.01" x2="166.1" y2="81.01" stroke="#3c3c3c" stroke-width="0.8"/>
<line x1="280.8" y1="81.01" x2="279.2" y2="81.01" stroke="#3c3c3c" stroke-width="0.8"/>
<line x1="164.5" y1="78.6" x2="166.1" y2="78.6" stroke="#3c3c3c" stroke-width="0.8"/>
<line x1="280.8" y1="78.6" x2="279.2" y2="78.6" stroke="#3c3c3c" stroke-width="0.8"/>
<line x1="164.5" y1="76.89" x2="166.1" y2="76.89" stroke="#3c3c3c" stroke-width="0.8"/>
<line x1="280.8" y1="76.89" x2="279.2" y2="76.89" stroke="#3c3c3c" stroke-width="0.8"/>
<line x1="164.5" y1="75.56" x2="166.1" y2="75.56" stroke="#3c3c3c" stroke-width="0.8"/>
<line x1="280.8" y1="75.56" x2="279.2" y2="75.56" stroke="#3c3c3c" stroke-width="0.8"/>
<line x1="164.5" y1="74.48" x2="166.1" y2="74.48" stroke="#3c3c3c" stroke-width="0.8"/>
<line x1="280.8" y1="74.48" x2="279.2" y2="74.48" stroke="#3c3c3c" stroke-width="0.8"/>
<line x1="164.5" y1="73.56" x2="166.1" y2="73.56" stroke="#3c3c3c" stroke-width="0.8"/>
<line x1="280.8" y1="73.56" x2="279.2" y2="73.56" stroke="#3c3c3c" stroke-width="0.8"/>
<line x1="164.5" y1="72.77" x2="166.1" y2="72.77" stroke="#3c3c3c" stroke-width="0.8"/>
<line x1="280.8" y1="72.77" x2="279.2" y2="72.77" stroke="#3c3c3c" stroke-width="0.8"/>
<line x1="164.5" y1="72.07" x2="166.1" y2="72.07" stroke="#3c3c3c" stroke-width="0.8"/>
<line x1="280.8" y1="72.07" x2="279.2" y2="72.07" stroke="#3c3c3c" stroke-width="0.8"/>
<line x1="164.5" y1="71.44" x2="167.5" y2="71.44" stroke="#3c3c3c" stroke-width="1"/>
<line x1="280.8" y1="71.44" x2="277.8" y2="71.44" stroke="#3c3c3c" stroke-width="1"/>
<line x1="164.5" y1="67.32" x2="166.1" y2="67.32" stroke="#3c3c3c" stroke-width="0.8"/>
<line x1="280.8" y1="67.32" x2="279.2" y2="67.32" stroke="#3c3c3c" stroke-width="0.8"/>
<line x1="164.5" y1="64.91" x2="166.1" y2="64.91" stroke="#3c3c3c" stroke-width="0.8"/>
<line x1="280.8" y1="64.91" x2="279.2" y2="64.91" stroke="#3c3c3c" stroke-width="0.8"/>
<line x1="164.5" y1="63.2" x2="166.1" y2="63.2" stroke="#3c3c3c" stroke-width="0.8"/>
<line x1="280.8" y1="63.2" x2="279.2" y2="63.2" stroke="#3c3c3c" stroke-width="0.8"/>
<line x1="164.5" y1="61.88" x2="166.1" y2="61.88" stroke="#3c3c3c" stroke-width="0.8"/>
<line x1="280.8" y1="61.88" x2="279.2" y2="61.88" stroke="#3c3c3c" stroke-width="0.8"/>
<line x1="164.5" y1="60.79" x2="166.1" y2="60.79" stroke="#3c3c3c" stroke-width="0.8"/>
<line x1="280.8" y1="60.79" x2="279.2" y2="60.79" stroke="#3c3c3c" stroke-width="0.8"/>
<line x1="164.5" y1="59.88" x2="166.1" y2="59.88" stroke="#3c3c3c" stroke-width="0.8"/>
<line x1="280.8" y1="59.88" x2="279.2" y2="59.88" stroke="#3c3c3c" stroke-width="0.8"/>
<line x1="164.5" y1="59.08" x2="166.1" y2="59.08" stroke="#3c3c3c" stroke-width="0.8"/>
<line x1="280.8" y1="59.08" x2="279.2" y2="59.08" stroke="#3c3c3c" stroke-width="0.8"/>
<line x1="164.5" y1="58.38" x2="166.1" y2="58.38" stroke="#3c3c3c" stroke-width="0.8"/>
<line x1="280.8" y1="58.38" x2="279.2" y2="58.38" stroke="#3c3c3c" stroke-width="0.8"/>
<line x1="164.5" y1="57.76" x2="167.5" y2="57.76" stroke="#3c3c3c" stroke-width="1"/>
<line x1="280.8" y1="57.76" x2="277.8" y2="57.76" stroke="#3c3c3c" stroke-width="1"/>
<line x1="164.5" y1="53.64" x2="166.1" y2="53.64" stroke="#3c3c3c" stroke-width="0.8"/>
<line x1="280.8" y1="53.64" x2="279.2" y2="53.64" stroke="#3c3c3c" stroke-width="0.8"/>
<line x1="164.5" y1="51.23" x2="166.1" y2="51.23" stroke="#3c3c3c" stroke-width="0.8"/>
<line x1="280.8" y1="51.23" x2="279.2" y2="51.23" stroke="#3c3c3c" stroke-width="0.8"/>
<line x1="164.5" y1="49.52" x2="166.1" y2="49.52" stroke="#3c3c3c" stroke-width="0.8"/>
<line x1="280.8" y1="49.52" x2="279.2" y2="49.52" stroke="#3c3c3c" stroke-width="0.8"/>
<line x1="164.5" y1="48.19" x2="166.1" y2="48.19" stroke="#3c3c3c" stroke-width="0.8"/>
<line x1="280.8" y1="48.19" x2="279.2" y2="48.19" stroke="#3c3c3c" stroke-width="0.8"/>
<line x1="164.5" y1="47.11" x2="166.1" y2="47.11" stroke="#3c3c3c" stroke-width="0.8"/>
<line x1="280.8" y1="47.11" x2="279.2" y2="47.11" stroke="#3c3c3c" stroke-width="0.8"/>
<line x1="164.5" y1="46.19" x2="166.1" y2="46.19" stroke="#3c3c3c" stroke-width="0.8"/>
<line x1="280.8" y1="46.19" x2="279.2" y2="46.19" stroke="#3c3c3c" stroke-width="0.8"/>
<line x1="164.5" y1="45.4" x2="166.1" y2="45.4" stroke="#3c3c3c" stroke-width="0.8"/>
<line x1="280.8" y1="45.4" x2="279.2" y2="45.4" stroke="#3c3c3c" stroke-width="0.8"/>
<line x1="164.5" y1="44.7" x2="166.1" y2="44.7" stroke="#3c3c3c" stroke-width="0.8"/>
<line x1="280.8" y1="44.7" x2="279.2" y2="44.7" stroke="#3c3c3c" stroke-width="0.8"/>
<line x1="164.5" y1="44.07" x2="167.5" y2="44.07" stroke="#3c3c3c" stroke-width="1"/>
<line x1="280.8" y1="44.07" x2="277.8" y2="44.07" stroke="#3c3c3c" stroke-width="1"/>
<line x1="164.5" y1="39.95" x2="166.1" y2="39.95" stroke="#3c3c3c" stroke-width="0.8"/>
<line x1="280.8" y1="39.95" x2="279.2" y2="39.95" stroke="#3c3c3c" stroke-width="0.8"/>
<line x1="164.5" y1="37.54" x2="166.1" y2="37.54" stroke="#3c3c3c" stroke-width="0.8"/>
<line x1="280.8" y1="37.54" x2="279.2" y2="37.54" stroke="#3c3c3c" stroke-width="0.8"/>
<line x1="164.5" y1="35.83" x2="166.1" y2="35.83" stroke="#3c3c3c" stroke-width="0.8"/>
<line x1="280.8" y1="35.83" x2="279.2" y2="35.83" stroke="#3c3c3c" stroke-width="0.8"/>
<line x1="164.5" y1="34.51" x2="166.1" y2="34.51" stroke="#3c3c3c" stroke-width="0.8"/>
<line x1="280.8" y1="34.51" x2="279.2" y2="34.51" stroke="#3c3c3c" stroke-width="0.8"/>
<line x1="164.5" y1="33.42" x2="166.1" y2="33.42" stroke="#3c3c3c" stroke-width="0.8"/>
<line x1="280.8" y1="33.42" x2="279.2" y2="33.42" stroke="#3c3c3c" stroke-width="0.8"/>
<line x1="164.5" y1="32.51" x2="166.1" y2="32.51" stroke="#3c3c3c" stroke-width="0.8"/>
<line x1="280.8" y1="32.51" x2="279.2" y2="32.51" stroke="#3c3c3c" stroke-width="0.8"/>
<line x1="164.5" y1="31.71" x2="166.1" y2="31.71" stroke="#3c3c3c" stroke-width="0.8"/>
<line x1="280.8" y1="31.71" x2="279.2" y2="31.71" stroke="#3c3c3c" stroke-width="0.8"/>
<line x1="164.5" y1="31.01" x2="166.1" y2="31.01" stroke="#3c3c3c" stroke-width="0.8"/>
<line x1="280.8" y1="31.01" x2="279.2" y2="31.01" stroke="#3c3c3c" stroke-width="0.8"/>
<line x1="164.5" y1="30.39" x2="167.5" y2="30.39" stroke="#3c3c3c" stroke-width="1"/>
<line x1="280.8" y1="30.39" x2="277.8" y2="30.39" stroke="#3c3c3c" stroke-width="1"/>
<line x1="164.5" y1="26.27" x2="166.1" y2="26.27" stroke="#3c3c3c" stroke-width="0.8"/>
<line x1="280.8" y1="26.27" x2="279.2" y2="26.27" stroke="#3c3c3c" stroke-width="0.8"/>
<line x1="164.5" y1="23.86" x2="166.1" y2="23.86" stroke="#3c3c3c" stroke-width="0.8"/>
<line x1="280.8" y1="23.86" x2="279.2" y2="23.86" stroke="#3c3c3c" stroke-width="0.8"/>
<line x1="164.5" y1="22.15" x2="166.1" y2="22.15" stroke="#3c3c3c" stroke-width="0.8"/>
<line x1="280.8" y1="22.15" x2="279.2" y2="22.15" stroke="#3c3c3c" stroke-width="0.8"/>
<line x1="164.5" y1="20.82" x2="166.1" y2="20.82" stroke="#3c3c3c" stroke-width="0.8"/>
<line x1="280.8" y1="20.82" x2="279.2" y2="20.82" stroke="#3c3c3c" stroke-width="0.8"/>
<line x1="164.5" y1="19.74" x2="166.1" y2="19.74" stroke="#3c3c3c" stroke-width="0.8"/>
<line x1="280.8" y1="19.74" x2="279.2" y2="19.74" stroke="#3c3c3c" stroke-width="0.8"/>
<line x1="164.5" y1="18.82" x2="166.1" y2="18.82" stroke="#3c3c3c" stroke-width="0.8"/>
<line x1="280.8" y1="18.82" x2="279.2" y2="18.82" stroke="#3c3c3c" stroke-width="0.8"/>
<line x1="164.5" y1="18.03" x2="166.1" y2="18.03" stroke="#3c3c3c" stroke-width="0.8"/>
<line x1="280.8" y1="18.03" x2="279.2" y2="18.03" stroke="#3c3c3c" stroke-width="0.8"/>
<line x1="164.5" y1="17.33" x2="166.1" y2="17.33" stroke="#3c3c3c" stroke-width="0.8"/>
<line x1="280.8" y1="17.33" x2="279.2" y2="17.33" stroke="#3c3c3c" stroke-width="0.8"/>
<line x1="164.5" y1="16.7" x2="167.5" y2="16.7" stroke="#3c3c3c" stroke-width="1"/>
<line x1="280.8" y1="16.7" x2="277.8" y2="16.7" stroke="#3c3c3c" stroke-width="1"/>
<line x1="164.5" y1="112.5" x2="164.5" y2="109.5" stroke="#3c3c3c" stroke-width="1"/>
<line x1="176.17" y1="112.5" x2="176.17" y2="110.9" stroke="#3c3c3c" stroke-width="0.8"/>
<line x1="183" y1="112.5" x2="183" y2="110.9" stroke="#3c3c3c" stroke-width="0.8"/>
<line x1="187.84" y1="112.5" x2="187.84" y2="110.9" stroke="#3c3c3c" stroke-width="0.8"/>
<line x1="191.6" y1="112.5" x2="191.6" y2="110.9" stroke="#3c3c3c" stroke-width="0.8"/>
<line x1="194.67" y1="112.5" x2="194.67" y2="110.9" stroke="#3c3c3c" stroke-width="0.8"/>
<line x1="197.26" y1="112.5" x2="197.26" y2="110.9" stroke="#3c3c3c" stroke-width="0.8"/>
<line x1="199.51" y1="112.5" x2="199.51" y2="110.9" stroke="#3c3c3c" stroke-width="0.8"/>
<line x1="201.49" y1="112.5" x2="201.49" y2="110.9" stroke="#3c3c3c" stroke-width="0.8"/>
<line x1="203.27" y1="112.5" x2="203.27" y2="109.5" stroke="#3c3c3c" stroke-width="1"/>
<line x1="214.94" y1="112.5" x2="214.94" y2="110.9" stroke="#3c3c3c" stroke-width="0.8"/>
<line x1="221.76" y1="112.5" x2="221.76" y2="110.9" stroke="#3c3c3c" stroke-width="0.8"/>
<line x1="226.61" y1="112.5" x2="226.61" y2="110.9" stroke="#3c3c3c" stroke-width="0.8"/>
<line x1="230.36" y1="112.5" x2="230.36" y2="110.9" stroke="#3c3c3c" stroke-width="0.8"/>
<line x1="233.43" y1="112.5" x2="233.43" y2="110.9" stroke="#3c3c3c" stroke-width="0.8"/>
<line x1="236.03" y1="112.5" x2="236.03" y2="110.9" stroke="#3c3c3c" stroke-width="0.8"/>
<line x1="238.28" y1="112.5" x2="238.28" y2="110.9" stroke="#3c3c3c" stroke-width="0.8"/>
<line x1="240.26" y1="112.5" x2="240.26" y2="110.9" stroke="#3c3c3c" stroke-width="0.8"/>
<line x1="242.03" y1="112.5" x2="242.03" y2="109.5" stroke="#3c3c3c" stroke-width="1"/>
<line x1="253.7" y1="112.5" x2="253.7" y2="110.9" stroke="#3c3c3c" stroke-width="0.8"/>
<line x1="260.53" y1="112.5" x2="260.53" y2="110.9" stroke="#3c3c3c" stroke-width="0.8"/>
<line x1="265.37" y1="112.5" x2="265.37" y2="110.9" stroke="#3c3c3c" stroke-width="0.8"/>
<line x1="269.13" y1="112.5" x2="269.13" y2="110.9" stroke="#3c3c3c" stroke-width="0.8"/>
<line x1="272.2" y1="112.5" x2="272.2" y2="110.9" stroke="#3c3c3c" stroke-width="0.8"/>
<line x1="274.79" y1="112.5" x2="274.79" y2="110.9" stroke="#3c3c3c" stroke-width="0.8"/>
<line x1="277.04" y1="112.5" x2="277.04" y2="110.9" stroke="#3c3c3c" stroke-width="0.8"/>
<line x1="279.03" y1="112.5" x2="279.03" y2="110.9" stroke="#3c3c3c" stroke-width="0.8"/>
<line x1="280.8" y1="112.5" x2="280.8" y2="109.5" stroke="#3c3c3c" stroke-width="1"/>
<rect x="164.5" y="16.7" width="116.3" height="95.8" fill="none" stroke="#3c3c3c" stroke-width="1.3"/>
<path d="M152.38 114.1L151.8 114.1L151.8 110.4C151.65 110.54 151.47 110.68 151.24 110.82C151.01 110.95 150.8 111.06 150.62 111.13L150.62 110.57C150.93 110.42 151.21 110.24 151.45 110.03C151.69 109.82 151.86 109.6 151.96 109.37L152.38 109.37Z" fill="#111"/>
<text x="153.59" y="114.1" font-size="6.6" fill="#111" stroke="#111">0</text>
<text x="157.4" y="110.7" font-size="4.3" fill="#111" stroke="#111">&#8722;9</text>
<path d="M152.38 100.41L151.8 100.41L151.8 96.72C151.65 96.86 151.47 97 151.24 97.13C151.01 97.27 150.8 97.37 150.62 97.44L150.62 96.88C150.93 96.73 151.21 96.55 151.45 96.34C151.69 96.13 151.86 95.91 151.96 95.69L152.38 95.69Z" fill="#111"/>
<text x="153.59" y="100.41" font-size="6.6" fill="#111" stroke="#111">0</text>
<text x="157.4" y="97.01" font-size="4.3" fill="#111" stroke="#111">&#8722;8</text>
<path d="M152.38 86.73L151.8 86.73L151.8 83.03C151.65 83.17 151.47 83.31 151.24 83.45C151.01 83.58 150.8 83.69 150.62 83.76L150.62 83.2C150.93 83.05 151.21 82.87 151.45 82.66C151.69 82.45 151.86 82.23 151.96 82L152.38 82Z" fill="#111"/>
<text x="153.59" y="86.73" font-size="6.6" fill="#111" stroke="#111">0</text>
<text x="157.4" y="83.33" font-size="4.3" fill="#111" stroke="#111">&#8722;7</text>
<path d="M152.38 73.04L151.8 73.04L151.8 69.35C151.65 69.49 151.47 69.62 151.24 69.76C151.01 69.89 150.8 70 150.62 70.07L150.62 69.51C150.93 69.36 151.21 69.18 151.45 68.97C151.69 68.76 151.86 68.54 151.96 68.32L152.38 68.32Z" fill="#111"/>
<text x="153.59" y="73.04" font-size="6.6" fill="#111" stroke="#111">0</text>
<text x="157.4" y="69.64" font-size="4.3" fill="#111" stroke="#111">&#8722;6</text>
<path d="M152.38 59.36L151.8 59.36L151.8 55.66C151.65 55.8 151.47 55.94 151.24 56.08C151.01 56.21 150.8 56.31 150.62 56.39L150.62 55.83C150.93 55.67 151.21 55.5 151.45 55.28C151.69 55.07 151.86 54.86 151.96 54.63L152.38 54.63Z" fill="#111"/>
<text x="153.59" y="59.36" font-size="6.6" fill="#111" stroke="#111">0</text>
<text x="157.4" y="55.96" font-size="4.3" fill="#111" stroke="#111">&#8722;5</text>
<path d="M152.38 45.67L151.8 45.67L151.8 41.98C151.65 42.11 151.47 42.25 151.24 42.39C151.01 42.52 150.8 42.63 150.62 42.7L150.62 42.14C150.93 41.99 151.21 41.81 151.45 41.6C151.69 41.39 151.86 41.17 151.96 40.95L152.38 40.95Z" fill="#111"/>
<text x="153.59" y="45.67" font-size="6.6" fill="#111" stroke="#111">0</text>
<text x="157.4" y="42.27" font-size="4.3" fill="#111" stroke="#111">&#8722;4</text>
<path d="M152.38 31.99L151.8 31.99L151.8 28.29C151.65 28.43 151.47 28.57 151.24 28.71C151.01 28.84 150.8 28.94 150.62 29.02L150.62 28.45C150.93 28.3 151.21 28.12 151.45 27.91C151.69 27.7 151.86 27.48 151.96 27.26L152.38 27.26Z" fill="#111"/>
<text x="153.59" y="31.99" font-size="6.6" fill="#111" stroke="#111">0</text>
<text x="157.4" y="28.59" font-size="4.3" fill="#111" stroke="#111">&#8722;3</text>
<path d="M152.38 18.3L151.8 18.3L151.8 14.6C151.65 14.74 151.47 14.88 151.24 15.02C151.01 15.15 150.8 15.26 150.62 15.33L150.62 14.77C150.93 14.62 151.21 14.44 151.45 14.23C151.69 14.02 151.86 13.8 151.96 13.57L152.38 13.57Z" fill="#111"/>
<text x="153.59" y="18.3" font-size="6.6" fill="#111" stroke="#111">0</text>
<text x="157.4" y="14.9" font-size="4.3" fill="#111" stroke="#111">&#8722;2</text>
<path d="M161.96 121.3L161.38 121.3L161.38 117.6C161.23 117.74 161.05 117.88 160.82 118.02C160.59 118.15 160.38 118.26 160.2 118.33L160.2 117.77C160.51 117.62 160.79 117.44 161.03 117.23C161.27 117.02 161.44 116.8 161.54 116.57L161.96 116.57Z" fill="#111"/>
<text x="163.17" y="121.3" font-size="6.6" fill="#111" stroke="#111">0</text>
<text x="167.1" y="117.5" font-size="4.3" fill="#111" stroke="#111">3</text>
<path d="M200.73 121.3L200.15 121.3L200.15 117.6C200 117.74 199.82 117.88 199.59 118.02C199.35 118.15 199.15 118.26 198.96 118.33L198.96 117.77C199.28 117.62 199.56 117.44 199.8 117.23C200.03 117.02 200.21 116.8 200.3 116.57L200.73 116.57Z" fill="#111"/>
<text x="201.93" y="121.3" font-size="6.6" fill="#111" stroke="#111">0</text>
<text x="205.87" y="117.5" font-size="4.3" fill="#111" stroke="#111">4</text>
<path d="M239.49 121.3L238.91 121.3L238.91 117.6C238.77 117.74 238.58 117.88 238.35 118.02C238.12 118.15 237.92 118.26 237.73 118.33L237.73 117.77C238.05 117.62 238.33 117.44 238.56 117.23C238.8 117.02 238.97 116.8 239.07 116.57L239.49 116.57Z" fill="#111"/>
<text x="240.7" y="121.3" font-size="6.6" fill="#111" stroke="#111">0</text>
<text x="244.63" y="117.5" font-size="4.3" fill="#111" stroke="#111">5</text>
<path d="M278.26 121.3L277.68 121.3L277.68 117.6C277.53 117.74 277.35 117.88 277.12 118.02C276.89 118.15 276.68 118.26 276.5 118.33L276.5 117.77C276.81 117.62 277.09 117.44 277.33 117.23C277.57 117.02 277.74 116.8 277.84 116.57L278.26 116.57Z" fill="#111"/>
<text x="279.47" y="121.3" font-size="6.6" fill="#111" stroke="#111">0</text>
<text x="283.4" y="117.5" font-size="4.3" fill="#111" stroke="#111">6</text>
<text class="c" stroke="#000" x="210.5" y="129.0" font-size="9.8">f (Hz<tspan dx="0.8">)</tspan></text>
<text class="c" stroke="#000" transform="translate(146.2,63.8) rotate(-90)" font-size="10.2" text-anchor="middle">&#963; (S/m)</text>
<path d="M164.5 92.3 L165.68 91.95 L166.85 91.59 L168.03 91.23 L169.21 90.87 L170.38 90.51 L171.56 90.14 L172.74 89.77 L173.91 89.38 L175.09 89 L176.27 88.61 L177.44 88.22 L178.62 87.84 L179.8 87.46 L180.97 87.1 L182.15 86.74 L183.33 86.39 L184.51 86.04 L185.68 85.69 L186.86 85.34 L188.04 84.99 L189.21 84.63 L190.39 84.28 L191.57 83.93 L192.74 83.56 L193.92 83.19 L195.1 82.8 L196.27 82.4 L197.45 81.99 L198.63 81.56 L199.8 81.13 L200.98 80.69 L202.16 80.24 L203.33 79.78 L204.51 79.3 L205.69 78.81 L206.86 78.31 L208.04 77.81 L209.22 77.31 L210.39 76.8 L211.57 76.28 L212.75 75.75 L213.92 75.23 L215.1 74.7 L216.28 74.18 L217.45 73.66 L218.63 73.15 L219.81 72.63 L220.98 72.11 L222.16 71.58 L223.34 71.03 L224.52 70.45 L225.69 69.85 L226.87 69.24 L228.05 68.61 L229.22 67.97 L230.4 67.33 L231.58 66.68 L232.75 66.01 L233.93 65.33 L235.11 64.65 L236.28 63.97 L237.46 63.3 L238.64 62.65 L239.81 62 L240.99 61.36 L242.17 60.73 L243.34 60.13 L244.52 59.55 L245.7 59 L246.87 58.48 L248.05 57.96 L249.23 57.44 L250.4 56.92 L251.58 56.38 L252.76 55.83 L253.93 55.28 L255.11 54.73 L256.29 54.2 L257.46 53.69 L258.64 53.2 L259.82 52.73 L260.99 52.24 L262.17 51.75 L263.35 51.28 L264.53 50.84 L265.7 50.47 L266.88 50.17 L268.06 49.96 L269.23 49.79 L270.41 49.64 L271.59 49.52 L272.76 49.43 L273.94 49.4 L275.12 49.45 L276.29 49.57 L277.47 49.71 L278.65 49.82 L279.82 49.91 L281 50" fill="none" stroke="#0d6b16" stroke-width="0.6" stroke-linejoin="round"/>
<g fill="#0d6b16"><rect x="165.42" y="90.79" width="1.9" height="1.9"/><rect x="168.51" y="89.84" width="1.9" height="1.9"/><rect x="171.61" y="88.87" width="1.9" height="1.9"/><rect x="174.71" y="87.86" width="1.9" height="1.9"/><rect x="177.81" y="86.84" width="1.9" height="1.9"/><rect x="180.91" y="85.88" width="1.9" height="1.9"/><rect x="184.01" y="84.96" width="1.9" height="1.9"/><rect x="187.11" y="84.03" width="1.9" height="1.9"/><rect x="190.2" y="83.1" width="1.9" height="1.9"/><rect x="193.3" y="82.13" width="1.9" height="1.9"/><rect x="196.4" y="81.07" width="1.9" height="1.9"/><rect x="199.5" y="79.94" width="1.9" height="1.9"/><rect x="202.6" y="78.74" width="1.9" height="1.9"/><rect x="205.7" y="77.45" width="1.9" height="1.9"/><rect x="208.8" y="76.13" width="1.9" height="1.9"/><rect x="211.9" y="74.76" width="1.9" height="1.9"/><rect x="214.99" y="73.37" width="1.9" height="1.9"/><rect x="218.09" y="72.02" width="1.9" height="1.9"/><rect x="221.19" y="70.64" width="1.9" height="1.9"/><rect x="224.29" y="69.13" width="1.9" height="1.9"/><rect x="227.39" y="67.5" width="1.9" height="1.9"/><rect x="230.49" y="65.81" width="1.9" height="1.9"/><rect x="233.59" y="64.03" width="1.9" height="1.9"/><rect x="236.69" y="62.25" width="1.9" height="1.9"/><rect x="239.78" y="60.55" width="1.9" height="1.9"/><rect x="242.88" y="58.93" width="1.9" height="1.9"/><rect x="245.98" y="57.5" width="1.9" height="1.9"/><rect x="249.08" y="56.14" width="1.9" height="1.9"/><rect x="252.18" y="54.7" width="1.9" height="1.9"/><rect x="255.28" y="53.28" width="1.9" height="1.9"/><rect x="258.38" y="51.98" width="1.9" height="1.9"/><rect x="261.47" y="50.7" width="1.9" height="1.9"/><rect x="264.57" y="49.57" width="1.9" height="1.9"/><rect x="267.67" y="48.93" width="1.9" height="1.9"/><rect x="270.77" y="48.56" width="1.9" height="1.9"/><rect x="273.87" y="48.48" width="1.9" height="1.9"/><rect x="276.97" y="48.81" width="1.9" height="1.9"/><rect x="280.07" y="49.05" width="1.9" height="1.9"/></g>
<path d="M164.5 62.5 L165.68 62.38 L166.85 62.27 L168.03 62.16 L169.21 62.04 L170.38 61.93 L171.56 61.82 L172.74 61.71 L173.91 61.6 L175.09 61.49 L176.27 61.38 L177.44 61.28 L178.62 61.17 L179.8 61.07 L180.97 60.96 L182.15 60.86 L183.33 60.76 L184.51 60.66 L185.68 60.56 L186.86 60.47 L188.04 60.38 L189.21 60.29 L190.39 60.2 L191.57 60.12 L192.74 60.03 L193.92 59.95 L195.1 59.86 L196.27 59.77 L197.45 59.68 L198.63 59.59 L199.8 59.49 L200.98 59.39 L202.16 59.28 L203.33 59.17 L204.51 59.05 L205.69 58.92 L206.86 58.79 L208.04 58.65 L209.22 58.5 L210.39 58.35 L211.57 58.19 L212.75 58.03 L213.92 57.86 L215.1 57.69 L216.28 57.51 L217.45 57.33 L218.63 57.14 L219.81 56.96 L220.98 56.77 L222.16 56.57 L223.34 56.37 L224.52 56.17 L225.69 55.95 L226.87 55.73 L228.05 55.51 L229.22 55.27 L230.4 55.04 L231.58 54.79 L232.75 54.55 L233.93 54.29 L235.11 54.04 L236.28 53.78 L237.46 53.52 L238.64 53.26 L239.81 52.98 L240.99 52.7 L242.17 52.4 L243.34 52.11 L244.52 51.8 L245.7 51.5 L246.87 51.2 L248.05 50.89 L249.23 50.59 L250.4 50.3 L251.58 50 L252.76 49.69 L253.93 49.39 L255.11 49.09 L256.29 48.79 L257.46 48.52 L258.64 48.25 L259.82 48.01 L260.99 47.76 L262.17 47.51 L263.35 47.27 L264.53 47.05 L265.7 46.86 L266.88 46.7 L268.06 46.58 L269.23 46.47 L270.41 46.37 L271.59 46.28 L272.76 46.22 L273.94 46.2 L275.12 46.26 L276.29 46.4 L277.47 46.58 L278.65 46.73 L279.82 46.86 L281 47" fill="none" stroke="#e81212" stroke-width="0.6" stroke-linejoin="round"/>
<g fill="#e81212"><rect x="165.42" y="61.37" width="1.9" height="1.9"/><rect x="168.51" y="61.07" width="1.9" height="1.9"/><rect x="171.61" y="60.78" width="1.9" height="1.9"/><rect x="174.71" y="60.49" width="1.9" height="1.9"/><rect x="177.81" y="60.21" width="1.9" height="1.9"/><rect x="180.91" y="59.94" width="1.9" height="1.9"/><rect x="184.01" y="59.67" width="1.9" height="1.9"/><rect x="187.11" y="59.43" width="1.9" height="1.9"/><rect x="190.2" y="59.2" width="1.9" height="1.9"/><rect x="193.3" y="58.97" width="1.9" height="1.9"/><rect x="196.4" y="58.74" width="1.9" height="1.9"/><rect x="199.5" y="58.48" width="1.9" height="1.9"/><rect x="202.6" y="58.2" width="1.9" height="1.9"/><rect x="205.7" y="57.86" width="1.9" height="1.9"/><rect x="208.8" y="57.48" width="1.9" height="1.9"/><rect x="211.9" y="57.06" width="1.9" height="1.9"/><rect x="214.99" y="56.61" width="1.9" height="1.9"/><rect x="218.09" y="56.13" width="1.9" height="1.9"/><rect x="221.19" y="55.63" width="1.9" height="1.9"/><rect x="224.29" y="55.09" width="1.9" height="1.9"/><rect x="227.39" y="54.5" width="1.9" height="1.9"/><rect x="230.49" y="53.87" width="1.9" height="1.9"/><rect x="233.59" y="53.21" width="1.9" height="1.9"/><rect x="236.69" y="52.53" width="1.9" height="1.9"/><rect x="239.78" y="51.81" width="1.9" height="1.9"/><rect x="242.88" y="51.03" width="1.9" height="1.9"/><rect x="245.98" y="50.23" width="1.9" height="1.9"/><rect x="249.08" y="49.44" width="1.9" height="1.9"/><rect x="252.18" y="48.65" width="1.9" height="1.9"/><rect x="255.28" y="47.86" width="1.9" height="1.9"/><rect x="258.38" y="47.16" width="1.9" height="1.9"/><rect x="261.47" y="46.51" width="1.9" height="1.9"/><rect x="264.57" y="45.94" width="1.9" height="1.9"/><rect x="267.67" y="45.57" width="1.9" height="1.9"/><rect x="270.77" y="45.32" width="1.9" height="1.9"/><rect x="273.87" y="45.28" width="1.9" height="1.9"/><rect x="276.97" y="45.69" width="1.9" height="1.9"/><rect x="280.07" y="46.05" width="1.9" height="1.9"/></g>
<path d="M164.5 30.2 L165.68 30.2 L166.85 30.2 L168.03 30.2 L169.21 30.2 L170.38 30.2 L171.56 30.19 L172.74 30.19 L173.91 30.19 L175.09 30.19 L176.27 30.19 L177.44 30.18 L178.62 30.18 L179.8 30.18 L180.97 30.17 L182.15 30.17 L183.33 30.17 L184.51 30.16 L185.68 30.16 L186.86 30.15 L188.04 30.15 L189.21 30.15 L190.39 30.14 L191.57 30.14 L192.74 30.13 L193.92 30.13 L195.1 30.12 L196.27 30.12 L197.45 30.11 L198.63 30.11 L199.8 30.1 L200.98 30.1 L202.16 30.09 L203.33 30.08 L204.51 30.08 L205.69 30.07 L206.86 30.06 L208.04 30.05 L209.22 30.04 L210.39 30.03 L211.57 30.02 L212.75 30.01 L213.92 30 L215.1 29.99 L216.28 29.97 L217.45 29.96 L218.63 29.95 L219.81 29.93 L220.98 29.92 L222.16 29.91 L223.34 29.89 L224.52 29.88 L225.69 29.86 L226.87 29.84 L228.05 29.83 L229.22 29.81 L230.4 29.79 L231.58 29.78 L232.75 29.75 L233.93 29.73 L235.11 29.71 L236.28 29.68 L237.46 29.66 L238.64 29.63 L239.81 29.6 L240.99 29.57 L242.17 29.54 L243.34 29.5 L244.52 29.47 L245.7 29.44 L246.87 29.4 L248.05 29.37 L249.23 29.33 L250.4 29.3 L251.58 29.26 L252.76 29.22 L253.93 29.19 L255.11 29.15 L256.29 29.11 L257.46 29.08 L258.64 29.04 L259.82 29.01 L260.99 28.97 L262.17 28.93 L263.35 28.9 L264.53 28.86 L265.7 28.82 L266.88 28.79 L268.06 28.75 L269.23 28.71 L270.41 28.67 L271.59 28.63 L272.76 28.59 L273.94 28.55 L275.12 28.51 L276.29 28.47 L277.47 28.43 L278.65 28.38 L279.82 28.34 L281 28.3" fill="none" stroke="#0606d2" stroke-width="0.6" stroke-linejoin="round"/>
<g fill="#0606d2"><rect x="165.42" y="29.25" width="1.9" height="1.9"/><rect x="168.51" y="29.25" width="1.9" height="1.9"/><rect x="171.61" y="29.24" width="1.9" height="1.9"/><rect x="174.71" y="29.24" width="1.9" height="1.9"/><rect x="177.81" y="29.23" width="1.9" height="1.9"/><rect x="180.91" y="29.22" width="1.9" height="1.9"/><rect x="184.01" y="29.21" width="1.9" height="1.9"/><rect x="187.11" y="29.2" width="1.9" height="1.9"/><rect x="190.2" y="29.19" width="1.9" height="1.9"/><rect x="193.3" y="29.18" width="1.9" height="1.9"/><rect x="196.4" y="29.16" width="1.9" height="1.9"/><rect x="199.5" y="29.15" width="1.9" height="1.9"/><rect x="202.6" y="29.13" width="1.9" height="1.9"/><rect x="205.7" y="29.11" width="1.9" height="1.9"/><rect x="208.8" y="29.09" width="1.9" height="1.9"/><rect x="211.9" y="29.06" width="1.9" height="1.9"/><rect x="214.99" y="29.03" width="1.9" height="1.9"/><rect x="218.09" y="28.99" width="1.9" height="1.9"/><rect x="221.19" y="28.96" width="1.9" height="1.9"/><rect x="224.29" y="28.92" width="1.9" height="1.9"/><rect x="227.39" y="28.87" width="1.9" height="1.9"/><rect x="230.49" y="28.83" width="1.9" height="1.9"/><rect x="233.59" y="28.77" width="1.9" height="1.9"/><rect x="236.69" y="28.7" width="1.9" height="1.9"/><rect x="239.78" y="28.63" width="1.9" height="1.9"/><rect x="242.88" y="28.54" width="1.9" height="1.9"/><rect x="245.98" y="28.45" width="1.9" height="1.9"/><rect x="249.08" y="28.36" width="1.9" height="1.9"/><rect x="252.18" y="28.26" width="1.9" height="1.9"/><rect x="255.28" y="28.16" width="1.9" height="1.9"/><rect x="258.38" y="28.07" width="1.9" height="1.9"/><rect x="261.47" y="27.98" width="1.9" height="1.9"/><rect x="264.57" y="27.88" width="1.9" height="1.9"/><rect x="267.67" y="27.78" width="1.9" height="1.9"/><rect x="270.77" y="27.68" width="1.9" height="1.9"/><rect x="273.87" y="27.57" width="1.9" height="1.9"/><rect x="276.97" y="27.46" width="1.9" height="1.9"/><rect x="280.07" y="27.35" width="1.9" height="1.9"/></g>
<path d="M164.5 19.8 L165.68 19.8 L166.85 19.8 L168.03 19.8 L169.21 19.8 L170.38 19.8 L171.56 19.8 L172.74 19.8 L173.91 19.8 L175.09 19.8 L176.27 19.8 L177.44 19.8 L178.62 19.8 L179.8 19.8 L180.97 19.8 L182.15 19.8 L183.33 19.8 L184.51 19.8 L185.68 19.8 L186.86 19.8 L188.04 19.8 L189.21 19.8 L190.39 19.8 L191.57 19.8 L192.74 19.8 L193.92 19.8 L195.1 19.8 L196.27 19.8 L197.45 19.8 L198.63 19.8 L199.8 19.8 L200.98 19.8 L202.16 19.8 L203.33 19.8 L204.51 19.8 L205.69 19.8 L206.86 19.8 L208.04 19.8 L209.22 19.8 L210.39 19.8 L211.57 19.8 L212.75 19.8 L213.92 19.8 L215.1 19.8 L216.28 19.8 L217.45 19.8 L218.63 19.8 L219.81 19.8 L220.98 19.8 L222.16 19.8 L223.34 19.8 L224.52 19.8 L225.69 19.8 L226.87 19.8 L228.05 19.8 L229.22 19.8 L230.4 19.8 L231.58 19.8 L232.75 19.8 L233.93 19.8 L235.11 19.8 L236.28 19.8 L237.46 19.8 L238.64 19.8 L239.81 19.8 L240.99 19.8 L242.17 19.8 L243.34 19.8 L244.52 19.8 L245.7 19.8 L246.87 19.8 L248.05 19.8 L249.23 19.8 L250.4 19.8 L251.58 19.8 L252.76 19.8 L253.93 19.8 L255.11 19.8 L256.29 19.8 L257.46 19.8 L258.64 19.8 L259.82 19.8 L260.99 19.8 L262.17 19.8 L263.35 19.8 L264.53 19.8 L265.7 19.8 L266.88 19.8 L268.06 19.8 L269.23 19.8 L270.41 19.8 L271.59 19.8 L272.76 19.8 L273.94 19.8 L275.12 19.8 L276.29 19.8 L277.47 19.8 L278.65 19.8 L279.82 19.8 L281 19.8" fill="none" stroke="#000000" stroke-width="0.6" stroke-linejoin="round"/>
<g fill="#000000"><rect x="165.42" y="18.85" width="1.9" height="1.9"/><rect x="168.51" y="18.85" width="1.9" height="1.9"/><rect x="171.61" y="18.85" width="1.9" height="1.9"/><rect x="174.71" y="18.85" width="1.9" height="1.9"/><rect x="177.81" y="18.85" width="1.9" height="1.9"/><rect x="180.91" y="18.85" width="1.9" height="1.9"/><rect x="184.01" y="18.85" width="1.9" height="1.9"/><rect x="187.11" y="18.85" width="1.9" height="1.9"/><rect x="190.2" y="18.85" width="1.9" height="1.9"/><rect x="193.3" y="18.85" width="1.9" height="1.9"/><rect x="196.4" y="18.85" width="1.9" height="1.9"/><rect x="199.5" y="18.85" width="1.9" height="1.9"/><rect x="202.6" y="18.85" width="1.9" height="1.9"/><rect x="205.7" y="18.85" width="1.9" height="1.9"/><rect x="208.8" y="18.85" width="1.9" height="1.9"/><rect x="211.9" y="18.85" width="1.9" height="1.9"/><rect x="214.99" y="18.85" width="1.9" height="1.9"/><rect x="218.09" y="18.85" width="1.9" height="1.9"/><rect x="221.19" y="18.85" width="1.9" height="1.9"/><rect x="224.29" y="18.85" width="1.9" height="1.9"/><rect x="227.39" y="18.85" width="1.9" height="1.9"/><rect x="230.49" y="18.85" width="1.9" height="1.9"/><rect x="233.59" y="18.85" width="1.9" height="1.9"/><rect x="236.69" y="18.85" width="1.9" height="1.9"/><rect x="239.78" y="18.85" width="1.9" height="1.9"/><rect x="242.88" y="18.85" width="1.9" height="1.9"/><rect x="245.98" y="18.85" width="1.9" height="1.9"/><rect x="249.08" y="18.85" width="1.9" height="1.9"/><rect x="252.18" y="18.85" width="1.9" height="1.9"/><rect x="255.28" y="18.85" width="1.9" height="1.9"/><rect x="258.38" y="18.85" width="1.9" height="1.9"/><rect x="261.47" y="18.85" width="1.9" height="1.9"/><rect x="264.57" y="18.85" width="1.9" height="1.9"/><rect x="267.67" y="18.85" width="1.9" height="1.9"/><rect x="270.77" y="18.85" width="1.9" height="1.9"/><rect x="273.87" y="18.85" width="1.9" height="1.9"/><rect x="276.97" y="18.85" width="1.9" height="1.9"/><rect x="280.07" y="18.85" width="1.9" height="1.9"/></g>
<text class="b" stroke="#000" x="147.6" y="240.5" font-size="16">f (Hz<tspan dx="1.6">)</tspan></text>
<text class="b" stroke="#000" transform="translate(15.1,119.3) rotate(-90)" font-size="16.5">&#949;</text>
<line x1="0.9" y1="105.9" x2="6.4" y2="105.9" stroke="#000" stroke-width="1.5"/>
<line x1="361.6" y1="216.5" x2="366.1" y2="216.5" stroke="#3c3c3c" stroke-width="1"/>
<line x1="607.7" y1="216.5" x2="603.2" y2="216.5" stroke="#3c3c3c" stroke-width="1"/>
<line x1="361.6" y1="175.5" x2="366.1" y2="175.5" stroke="#3c3c3c" stroke-width="1"/>
<line x1="607.7" y1="175.5" x2="603.2" y2="175.5" stroke="#3c3c3c" stroke-width="1"/>
<line x1="361.6" y1="134.5" x2="366.1" y2="134.5" stroke="#3c3c3c" stroke-width="1"/>
<line x1="607.7" y1="134.5" x2="603.2" y2="134.5" stroke="#3c3c3c" stroke-width="1"/>
<line x1="361.6" y1="93.5" x2="366.1" y2="93.5" stroke="#3c3c3c" stroke-width="1"/>
<line x1="607.7" y1="93.5" x2="603.2" y2="93.5" stroke="#3c3c3c" stroke-width="1"/>
<line x1="361.6" y1="53.5" x2="366.1" y2="53.5" stroke="#3c3c3c" stroke-width="1"/>
<line x1="607.7" y1="53.5" x2="603.2" y2="53.5" stroke="#3c3c3c" stroke-width="1"/>
<line x1="361.6" y1="12.5" x2="366.1" y2="12.5" stroke="#3c3c3c" stroke-width="1"/>
<line x1="607.7" y1="12.5" x2="603.2" y2="12.5" stroke="#3c3c3c" stroke-width="1"/>
<line x1="361.5" y1="216.6" x2="361.5" y2="212.1" stroke="#3c3c3c" stroke-width="1"/>
<line x1="386.5" y1="216.6" x2="386.5" y2="214.1" stroke="#3c3c3c" stroke-width="1"/>
<line x1="400.5" y1="216.6" x2="400.5" y2="214.1" stroke="#3c3c3c" stroke-width="1"/>
<line x1="410.5" y1="216.6" x2="410.5" y2="214.1" stroke="#3c3c3c" stroke-width="1"/>
<line x1="418.5" y1="216.6" x2="418.5" y2="214.1" stroke="#3c3c3c" stroke-width="1"/>
<line x1="425.5" y1="216.6" x2="425.5" y2="214.1" stroke="#3c3c3c" stroke-width="1"/>
<line x1="430.5" y1="216.6" x2="430.5" y2="214.1" stroke="#3c3c3c" stroke-width="1"/>
<line x1="435.5" y1="216.6" x2="435.5" y2="214.1" stroke="#3c3c3c" stroke-width="1"/>
<line x1="439.5" y1="216.6" x2="439.5" y2="214.1" stroke="#3c3c3c" stroke-width="1"/>
<line x1="443.5" y1="216.6" x2="443.5" y2="212.1" stroke="#3c3c3c" stroke-width="1"/>
<line x1="468.5" y1="216.6" x2="468.5" y2="214.1" stroke="#3c3c3c" stroke-width="1"/>
<line x1="482.5" y1="216.6" x2="482.5" y2="214.1" stroke="#3c3c3c" stroke-width="1"/>
<line x1="493.5" y1="216.6" x2="493.5" y2="214.1" stroke="#3c3c3c" stroke-width="1"/>
<line x1="500.5" y1="216.6" x2="500.5" y2="214.1" stroke="#3c3c3c" stroke-width="1"/>
<line x1="507.5" y1="216.6" x2="507.5" y2="214.1" stroke="#3c3c3c" stroke-width="1"/>
<line x1="512.5" y1="216.6" x2="512.5" y2="214.1" stroke="#3c3c3c" stroke-width="1"/>
<line x1="517.5" y1="216.6" x2="517.5" y2="214.1" stroke="#3c3c3c" stroke-width="1"/>
<line x1="521.5" y1="216.6" x2="521.5" y2="214.1" stroke="#3c3c3c" stroke-width="1"/>
<line x1="525.5" y1="216.6" x2="525.5" y2="212.1" stroke="#3c3c3c" stroke-width="1"/>
<line x1="550.5" y1="216.6" x2="550.5" y2="214.1" stroke="#3c3c3c" stroke-width="1"/>
<line x1="564.5" y1="216.6" x2="564.5" y2="214.1" stroke="#3c3c3c" stroke-width="1"/>
<line x1="575.5" y1="216.6" x2="575.5" y2="214.1" stroke="#3c3c3c" stroke-width="1"/>
<line x1="583.5" y1="216.6" x2="583.5" y2="214.1" stroke="#3c3c3c" stroke-width="1"/>
<line x1="589.5" y1="216.6" x2="589.5" y2="214.1" stroke="#3c3c3c" stroke-width="1"/>
<line x1="594.5" y1="216.6" x2="594.5" y2="214.1" stroke="#3c3c3c" stroke-width="1"/>
<line x1="599.5" y1="216.6" x2="599.5" y2="214.1" stroke="#3c3c3c" stroke-width="1"/>
<line x1="603.5" y1="216.6" x2="603.5" y2="214.1" stroke="#3c3c3c" stroke-width="1"/>
<line x1="607.5" y1="216.6" x2="607.5" y2="212.1" stroke="#3c3c3c" stroke-width="1"/>
<rect x="361.6" y="12.2" width="246.1" height="204.4" fill="none" stroke="#3c3c3c" stroke-width="1.2"/>
<path d="M342.85 15.8L341.97 15.8L341.97 10.2C341.75 10.41 341.47 10.62 341.12 10.83C340.77 11.03 340.46 11.19 340.18 11.3L340.18 10.45C340.66 10.22 341.08 9.95 341.44 9.63C341.8 9.31 342.06 8.98 342.21 8.64L342.85 8.64Z" fill="#000"/>
<text x="344.68" y="15.8" font-size="10" text-anchor="start" fill="#000" stroke="#000" >00</text>
<path d="M348.41 56.68L347.53 56.68L347.53 51.08C347.31 51.29 347.03 51.5 346.68 51.71C346.33 51.91 346.02 52.07 345.74 52.18L345.74 51.33C346.22 51.1 346.64 50.83 347 50.51C347.36 50.19 347.62 49.86 347.77 49.52L348.41 49.52Z" fill="#000"/>
<text x="350.24" y="56.68" font-size="10" text-anchor="start" fill="#000" stroke="#000" >0</text>
<path d="M353.97 97.56L353.09 97.56L353.09 91.96C352.87 92.17 352.59 92.38 352.24 92.59C351.89 92.79 351.58 92.95 351.3 93.06L351.3 92.21C351.78 91.98 352.2 91.71 352.56 91.39C352.92 91.07 353.18 90.74 353.33 90.4L353.97 90.4Z" fill="#000"/>
<text x="341.9" y="138.44" font-size="10" text-anchor="start" fill="#000" stroke="#000" >0,</text>
<path d="M353.97 138.44L353.09 138.44L353.09 132.84C352.87 133.05 352.59 133.26 352.24 133.47C351.89 133.67 351.58 133.83 351.3 133.94L351.3 133.09C351.78 132.86 352.2 132.59 352.56 132.27C352.92 131.95 353.18 131.62 353.33 131.28L353.97 131.28Z" fill="#000"/>
<text x="336.34" y="179.32" font-size="10" text-anchor="start" fill="#000" stroke="#000" >0,0</text>
<path d="M353.97 179.32L353.09 179.32L353.09 173.72C352.87 173.93 352.59 174.14 352.24 174.35C351.89 174.55 351.58 174.71 351.3 174.82L351.3 173.97C351.78 173.74 352.2 173.47 352.56 173.15C352.92 172.83 353.18 172.5 353.33 172.16L353.97 172.16Z" fill="#000"/>
<text x="330.78" y="220.2" font-size="10" text-anchor="start" fill="#000" stroke="#000" >0,00</text>
<path d="M353.97 220.2L353.09 220.2L353.09 214.6C352.87 214.81 352.59 215.02 352.24 215.23C351.89 215.43 351.58 215.59 351.3 215.7L351.3 214.85C351.78 214.62 352.2 214.35 352.56 214.03C352.92 213.71 353.18 213.38 353.33 213.04L353.97 213.04Z" fill="#000"/>
<path d="M358.17 231.3L357.29 231.3L357.29 225.7C357.07 225.91 356.79 226.12 356.44 226.33C356.09 226.53 355.78 226.69 355.5 226.8L355.5 225.95C355.98 225.72 356.4 225.45 356.76 225.13C357.12 224.81 357.38 224.48 357.53 224.14L358.17 224.14Z" fill="#000"/>
<text x="360" y="231.3" font-size="10" fill="#000" stroke="#000">0</text>
<text x="365.6" y="226.4" font-size="6.5" fill="#000" stroke="#000">3</text>
<path d="M440.2 231.3L439.32 231.3L439.32 225.7C439.1 225.91 438.82 226.12 438.47 226.33C438.12 226.53 437.81 226.69 437.53 226.8L437.53 225.95C438.01 225.72 438.43 225.45 438.79 225.13C439.15 224.81 439.41 224.48 439.56 224.14L440.2 224.14Z" fill="#000"/>
<text x="442.03" y="231.3" font-size="10" fill="#000" stroke="#000">0</text>
<text x="447.63" y="226.4" font-size="6.5" fill="#000" stroke="#000">4</text>
<path d="M522.24 231.3L521.36 231.3L521.36 225.7C521.14 225.91 520.86 226.12 520.51 226.33C520.16 226.53 519.85 226.69 519.57 226.8L519.57 225.95C520.05 225.72 520.47 225.45 520.83 225.13C521.19 224.81 521.45 224.48 521.6 224.14L522.24 224.14Z" fill="#000"/>
<text x="524.07" y="231.3" font-size="10" fill="#000" stroke="#000">0</text>
<text x="529.67" y="226.4" font-size="6.5" fill="#000" stroke="#000">5</text>
<path d="M604.27 231.3L603.39 231.3L603.39 225.7C603.17 225.91 602.89 226.12 602.54 226.33C602.19 226.53 601.88 226.69 601.6 226.8L601.6 225.95C602.08 225.72 602.5 225.45 602.86 225.13C603.22 224.81 603.48 224.48 603.63 224.14L604.27 224.14Z" fill="#000"/>
<text x="606.1" y="231.3" font-size="10" fill="#000" stroke="#000">0</text>
<text x="611.7" y="226.4" font-size="6.5" fill="#000" stroke="#000">6</text>
<text class="b" stroke="#000" x="465.0" y="243.3" font-size="16">f (Hz<tspan dx="1.5">)</tspan></text>
<text stroke="#000" transform="translate(333.3,131) rotate(-90)" font-size="16">tg<tspan dx="6.3">(&#948;)</tspan></text>
<text x="572.8" y="32.7" font-size="10.6" text-anchor="start" fill="#000" stroke="#000" >(b)</text>
<path d="M361.6 150.6 L363.15 150.6 L364.7 150.6 L366.24 150.63 L367.79 150.73 L369.34 150.87 L370.89 150.99 L372.43 151.1 L373.98 151.22 L375.53 151.33 L377.08 151.44 L378.63 151.55 L380.17 151.63 L381.72 151.72 L383.27 151.8 L384.82 151.91 L386.36 152.05 L387.91 152.22 L389.46 152.38 L391.01 152.52 L392.56 152.61 L394.1 152.7 L395.65 152.78 L397.2 152.87 L398.75 152.98 L400.29 153.11 L401.84 153.25 L403.39 153.37 L404.94 153.48 L406.49 153.61 L408.03 153.71 L409.58 153.78 L411.13 153.8 L412.68 153.74 L414.23 153.63 L415.77 153.51 L417.32 153.38 L418.87 153.25 L420.42 153.09 L421.96 152.94 L423.51 152.81 L425.06 152.7 L426.61 152.61 L428.16 152.53 L429.7 152.43 L431.25 152.31 L432.8 152.17 L434.35 152.02 L435.89 151.87 L437.44 151.71 L438.99 151.55 L440.54 151.38 L442.09 151.21 L443.63 151.05 L445.18 150.89 L446.73 150.74 L448.28 150.59 L449.82 150.43 L451.37 150.25 L452.92 150.05 L454.47 149.85 L456.02 149.66 L457.56 149.48 L459.11 149.32 L460.66 149.16 L462.21 149 L463.75 148.82 L465.3 148.64 L466.85 148.45 L468.4 148.25 L469.95 148.03 L471.49 147.78 L473.04 147.51 L474.59 147.24 L476.14 146.98 L477.68 146.74 L479.23 146.52 L480.78 146.3 L482.33 146.06 L483.88 145.8 L485.42 145.52 L486.97 145.23 L488.52 144.93 L490.07 144.63 L491.62 144.33 L493.16 144.03 L494.71 143.72 L496.26 143.41 L497.81 143.09 L499.35 142.78 L500.9 142.46 L502.45 142.13 L504 141.8 L505.55 141.45 L507.09 141.1 L508.64 140.77 L510.19 140.47 L511.74 140.19 L513.28 139.92 L514.83 139.63 L516.38 139.32 L517.93 138.98 L519.48 138.61 L521.02 138.24 L522.57 137.86 L524.12 137.48 L525.67 137.1 L527.21 136.71 L528.76 136.31 L530.31 135.91 L531.86 135.49 L533.41 135.07 L534.95 134.66 L536.5 134.28 L538.05 133.9 L539.6 133.54 L541.14 133.19 L542.69 132.86 L544.24 132.54 L545.79 132.24 L547.34 131.95 L548.88 131.66 L550.43 131.37 L551.98 131.07 L553.53 130.79 L555.07 130.52 L556.62 130.27 L558.17 130.05 L559.72 129.84 L561.27 129.64 L562.81 129.43 L564.36 129.22 L565.91 129.01 L567.46 128.82 L569.01 128.68 L570.55 128.55 L572.1 128.43 L573.65 128.34 L575.2 128.3 L576.74 128.3 L578.29 128.3 L579.84 128.3 L581.39 128.3 L582.94 128.41 L584.48 128.67 L586.03 129.01 L587.58 129.37 L589.13 129.74 L590.67 130.17 L592.22 130.68 L593.77 131.28 L595.32 132.03 L596.87 133.12 L598.41 134.4 L599.96 135.7 L601.51 136.86 L603.06 137.96 L604.6 139.03 L606.15 140.08 L607.7 141.1" fill="none" stroke="#0d6b16" stroke-width="1.8" stroke-linejoin="round"/>
<g fill="#0d6b16"><path d="M364.8 148.18L367.22 150.6L364.8 153.02L362.38 150.6Z"/><path d="M371.38 148.61L373.8 151.03L371.38 153.45L368.96 151.03Z"/><path d="M377.96 149.08L380.38 151.5L377.96 153.92L375.54 151.5Z"/><path d="M384.54 149.47L386.96 151.89L384.54 154.31L382.12 151.89Z"/><path d="M391.12 150.1L393.54 152.52L391.12 154.94L388.7 152.52Z"/><path d="M397.7 150.48L400.12 152.9L397.7 155.32L395.28 152.9Z"/><path d="M404.28 151.01L406.7 153.43L404.28 155.85L401.86 153.43Z"/><path d="M410.86 151.38L413.28 153.8L410.86 156.22L408.44 153.8Z"/><path d="M417.44 150.95L419.86 153.37L417.44 155.79L415.02 153.37Z"/><path d="M424.02 150.35L426.44 152.77L424.02 155.19L421.6 152.77Z"/><path d="M430.6 149.94L433.02 152.36L430.6 154.78L428.18 152.36Z"/><path d="M437.18 149.32L439.6 151.74L437.18 154.16L434.76 151.74Z"/><path d="M443.76 148.61L446.18 151.03L443.76 153.45L441.34 151.03Z"/><path d="M450.34 147.95L452.76 150.37L450.34 152.79L447.92 150.37Z"/><path d="M456.92 147.13L459.34 149.55L456.92 151.97L454.5 149.55Z"/><path d="M463.5 146.43L465.92 148.85L463.5 151.27L461.08 148.85Z"/><path d="M470.08 145.59L472.5 148.01L470.08 150.43L467.66 148.01Z"/><path d="M476.66 144.48L479.08 146.9L476.66 149.32L474.24 146.9Z"/><path d="M483.24 143.49L485.66 145.91L483.24 148.33L480.82 145.91Z"/><path d="M489.82 142.26L492.24 144.68L489.82 147.1L487.4 144.68Z"/><path d="M496.4 140.96L498.82 143.38L496.4 145.8L493.98 143.38Z"/><path d="M502.98 139.6L505.4 142.02L502.98 144.44L500.56 142.02Z"/><path d="M509.56 138.17L511.98 140.59L509.56 143.01L507.14 140.59Z"/><path d="M516.14 136.95L518.56 139.37L516.14 141.79L513.72 139.37Z"/><path d="M522.72 135.4L525.14 137.82L522.72 140.24L520.3 137.82Z"/><path d="M529.3 133.75L531.72 136.17L529.3 138.59L526.88 136.17Z"/><path d="M535.88 132.01L538.3 134.43L535.88 136.85L533.46 134.43Z"/><path d="M542.46 130.49L544.88 132.91L542.46 135.33L540.04 132.91Z"/><path d="M549.04 129.21L551.46 131.63L549.04 134.05L546.62 131.63Z"/><path d="M555.62 128.01L558.04 130.43L555.62 132.85L553.2 130.43Z"/><path d="M562.2 127.09L564.62 129.51L562.2 131.93L559.78 129.51Z"/><path d="M568.78 126.27L571.2 128.69L568.78 131.11L566.36 128.69Z"/><path d="M575.36 125.88L577.78 128.3L575.36 130.72L572.94 128.3Z"/><path d="M581.94 125.9L584.36 128.32L581.94 130.74L579.52 128.32Z"/><path d="M588.52 127.17L590.94 129.59L588.52 132.01L586.1 129.59Z"/><path d="M595.1 129.49L597.52 131.91L595.1 134.33L592.68 131.91Z"/><path d="M601.68 134.57L604.1 136.99L601.68 139.41L599.26 136.99Z"/><path d="M608.26 139.04L610.68 141.46L608.26 143.88L605.84 141.46Z"/></g>
<path d="M361.6 79 L363.15 79.3 L364.7 79.62 L366.24 79.97 L367.79 80.35 L369.34 80.74 L370.89 81.14 L372.43 81.58 L373.98 82.07 L375.53 82.59 L377.08 83.09 L378.63 83.55 L380.17 83.99 L381.72 84.41 L383.27 84.83 L384.82 85.26 L386.36 85.69 L387.91 86.13 L389.46 86.57 L391.01 87.01 L392.56 87.47 L394.1 87.95 L395.65 88.43 L397.2 88.89 L398.75 89.34 L400.29 89.78 L401.84 90.2 L403.39 90.62 L404.94 91.05 L406.49 91.47 L408.03 91.88 L409.58 92.31 L411.13 92.74 L412.68 93.19 L414.23 93.65 L415.77 94.11 L417.32 94.55 L418.87 94.97 L420.42 95.38 L421.96 95.78 L423.51 96.16 L425.06 96.53 L426.61 96.87 L428.16 97.21 L429.7 97.55 L431.25 97.89 L432.8 98.24 L434.35 98.59 L435.89 98.94 L437.44 99.29 L438.99 99.63 L440.54 99.97 L442.09 100.32 L443.63 100.66 L445.18 101.01 L446.73 101.36 L448.28 101.71 L449.82 102.06 L451.37 102.44 L452.92 102.83 L454.47 103.22 L456.02 103.61 L457.56 103.98 L459.11 104.34 L460.66 104.68 L462.21 105.03 L463.75 105.37 L465.3 105.71 L466.85 106.04 L468.4 106.36 L469.95 106.67 L471.49 106.95 L473.04 107.22 L474.59 107.48 L476.14 107.75 L477.68 108.03 L479.23 108.32 L480.78 108.6 L482.33 108.87 L483.88 109.13 L485.42 109.38 L486.97 109.62 L488.52 109.87 L490.07 110.13 L491.62 110.41 L493.16 110.69 L494.71 110.96 L496.26 111.23 L497.81 111.49 L499.35 111.75 L500.9 112 L502.45 112.26 L504 112.51 L505.55 112.76 L507.09 113.01 L508.64 113.26 L510.19 113.51 L511.74 113.77 L513.28 114.02 L514.83 114.27 L516.38 114.5 L517.93 114.72 L519.48 114.93 L521.02 115.13 L522.57 115.34 L524.12 115.54 L525.67 115.75 L527.21 115.94 L528.76 116.12 L530.31 116.28 L531.86 116.43 L533.41 116.57 L534.95 116.71 L536.5 116.84 L538.05 116.97 L539.6 117.09 L541.14 117.21 L542.69 117.31 L544.24 117.41 L545.79 117.5 L547.34 117.59 L548.88 117.68 L550.43 117.77 L551.98 117.86 L553.53 117.95 L555.07 118.05 L556.62 118.16 L558.17 118.27 L559.72 118.38 L561.27 118.51 L562.81 118.65 L564.36 118.81 L565.91 118.98 L567.46 119.16 L569.01 119.33 L570.55 119.49 L572.1 119.64 L573.65 119.79 L575.2 119.97 L576.74 120.19 L578.29 120.45 L579.84 120.73 L581.39 121.02 L582.94 121.3 L584.48 121.59 L586.03 121.91 L587.58 122.27 L589.13 122.68 L590.67 123.15 L592.22 123.68 L593.77 124.28 L595.32 125 L596.87 125.91 L598.41 126.96 L599.96 128.07 L601.51 129.15 L603.06 130.26 L604.6 131.4 L606.15 132.58 L607.7 133.8" fill="none" stroke="#e81212" stroke-width="1.8" stroke-linejoin="round"/>
<g fill="#e81212"><path d="M365.1 76.59L367.62 81.75L362.58 81.75Z"/><path d="M371.68 78.24L374.2 83.4L369.16 83.4Z"/><path d="M378.26 80.33L380.78 85.49L375.74 85.49Z"/><path d="M384.84 82.15L387.36 87.31L382.32 87.31Z"/><path d="M391.42 84.02L393.94 89.18L388.9 89.18Z"/><path d="M398 86.01L400.52 91.17L395.48 91.17Z"/><path d="M404.58 87.83L407.1 92.99L402.06 92.99Z"/><path d="M411.16 89.63L413.68 94.79L408.64 94.79Z"/><path d="M417.74 91.55L420.26 96.71L415.22 96.71Z"/><path d="M424.32 93.23L426.84 98.39L421.8 98.39Z"/><path d="M430.9 94.69L433.42 99.85L428.38 99.85Z"/><path d="M437.48 96.18L440 101.34L434.96 101.34Z"/><path d="M444.06 97.64L446.58 102.8L441.54 102.8Z"/><path d="M450.64 99.14L453.16 104.3L448.12 104.3Z"/><path d="M457.22 100.78L459.74 105.94L454.7 105.94Z"/><path d="M463.8 102.26L466.32 107.42L461.28 107.42Z"/><path d="M470.38 103.63L472.9 108.79L467.86 108.79Z"/><path d="M476.96 104.78L479.48 109.94L474.44 109.94Z"/><path d="M483.54 105.95L486.06 111.11L481.02 111.11Z"/><path d="M490.12 107.02L492.64 112.18L487.6 112.18Z"/><path d="M496.7 108.18L499.22 113.34L494.18 113.34Z"/><path d="M503.28 109.27L505.8 114.43L500.76 114.43Z"/><path d="M509.86 110.34L512.38 115.5L507.34 115.5Z"/><path d="M516.44 111.39L518.96 116.55L513.92 116.55Z"/><path d="M523.02 112.28L525.54 117.44L520.5 117.44Z"/><path d="M529.6 113.09L532.12 118.25L527.08 118.25Z"/><path d="M536.18 113.7L538.7 118.86L533.66 118.86Z"/><path d="M542.76 114.2L545.28 119.36L540.24 119.36Z"/><path d="M549.34 114.59L551.86 119.75L546.82 119.75Z"/><path d="M555.92 114.99L558.44 120.15L553.4 120.15Z"/><path d="M562.5 115.5L565.02 120.66L559.98 120.66Z"/><path d="M569.08 116.22L571.6 121.38L566.56 121.38Z"/><path d="M575.66 116.91L578.18 122.07L573.14 122.07Z"/><path d="M582.24 118.05L584.76 123.21L579.72 123.21Z"/><path d="M588.82 119.48L591.34 124.64L586.3 124.64Z"/><path d="M595.4 121.92L597.92 127.08L592.88 127.08Z"/><path d="M601.98 126.37L604.5 131.53L599.46 131.53Z"/><path d="M608.56 131.37L611.08 136.53L606.04 136.53Z"/></g>
<path d="M361.6 64.4 L363.15 63.81 L364.7 63.26 L366.24 62.77 L367.79 62.3 L369.34 61.83 L370.89 61.34 L372.43 60.8 L373.98 60.23 L375.53 59.66 L377.08 59.11 L378.63 58.6 L380.17 58.14 L381.72 57.68 L383.27 57.21 L384.82 56.68 L386.36 56.1 L387.91 55.47 L389.46 54.84 L391.01 54.22 L392.56 53.59 L394.1 52.97 L395.65 52.34 L397.2 51.74 L398.75 51.16 L400.29 50.61 L401.84 50.05 L403.39 49.48 L404.94 48.87 L406.49 48.22 L408.03 47.57 L409.58 46.96 L411.13 46.4 L412.68 45.87 L414.23 45.36 L415.77 44.86 L417.32 44.37 L418.87 43.89 L420.42 43.42 L421.96 42.95 L423.51 42.46 L425.06 41.96 L426.61 41.43 L428.16 40.91 L429.7 40.39 L431.25 39.9 L432.8 39.42 L434.35 38.94 L435.89 38.47 L437.44 37.99 L438.99 37.51 L440.54 37.02 L442.09 36.53 L443.63 36.06 L445.18 35.6 L446.73 35.15 L448.28 34.7 L449.82 34.25 L451.37 33.79 L452.92 33.31 L454.47 32.84 L456.02 32.42 L457.56 32.05 L459.11 31.7 L460.66 31.38 L462.21 31.1 L463.75 30.86 L465.3 30.65 L466.85 30.46 L468.4 30.31 L469.95 30.2 L471.49 30.13 L473.04 30.07 L474.59 30.03 L476.14 30 L477.68 30.01 L479.23 30.05 L480.78 30.12 L482.33 30.21 L483.88 30.32 L485.42 30.49 L486.97 30.74 L488.52 31.01 L490.07 31.29 L491.62 31.58 L493.16 31.89 L494.71 32.21 L496.26 32.53 L497.81 32.84 L499.35 33.15 L500.9 33.46 L502.45 33.79 L504 34.14 L505.55 34.54 L507.09 34.96 L508.64 35.38 L510.19 35.77 L511.74 36.14 L513.28 36.5 L514.83 36.89 L516.38 37.31 L517.93 37.79 L519.48 38.31 L521.02 38.84 L522.57 39.36 L524.12 39.87 L525.67 40.4 L527.21 40.92 L528.76 41.45 L530.31 41.99 L531.86 42.53 L533.41 43.07 L534.95 43.63 L536.5 44.22 L538.05 44.83 L539.6 45.45 L541.14 46.07 L542.69 46.66 L544.24 47.24 L545.79 47.82 L547.34 48.39 L548.88 48.97 L550.43 49.54 L551.98 50.11 L553.53 50.7 L555.07 51.31 L556.62 51.96 L558.17 52.64 L559.72 53.35 L561.27 54.06 L562.81 54.76 L564.36 55.47 L565.91 56.18 L567.46 56.91 L569.01 57.64 L570.55 58.39 L572.1 59.15 L573.65 59.92 L575.2 60.7 L576.74 61.49 L578.29 62.3 L579.84 63.12 L581.39 63.97 L582.94 64.86 L584.48 65.79 L586.03 66.74 L587.58 67.68 L589.13 68.57 L590.67 69.44 L592.22 70.29 L593.77 71.15 L595.32 72.03 L596.87 72.95 L598.41 73.89 L599.96 74.81 L601.51 75.67 L603.06 76.48 L604.6 77.25 L606.15 78 L607.7 78.7" fill="none" stroke="#000000" stroke-width="1.8" stroke-linejoin="round"/>
<g fill="#000000"><circle cx="364.5" cy="63.33" r="2.5"/><circle cx="371.08" cy="61.27" r="2.5"/><circle cx="377.66" cy="58.91" r="2.5"/><circle cx="384.24" cy="56.89" r="2.5"/><circle cx="390.82" cy="54.29" r="2.5"/><circle cx="397.4" cy="51.66" r="2.5"/><circle cx="403.98" cy="49.25" r="2.5"/><circle cx="410.56" cy="46.6" r="2.5"/><circle cx="417.14" cy="44.42" r="2.5"/><circle cx="423.72" cy="42.4" r="2.5"/><circle cx="430.3" cy="40.2" r="2.5"/><circle cx="436.88" cy="38.17" r="2.5"/><circle cx="443.46" cy="36.11" r="2.5"/><circle cx="450.04" cy="34.19" r="2.5"/><circle cx="456.62" cy="32.27" r="2.5"/><circle cx="463.2" cy="30.94" r="2.5"/><circle cx="469.78" cy="30.21" r="2.5"/><circle cx="476.36" cy="30" r="2.5"/><circle cx="482.94" cy="30.26" r="2.5"/><circle cx="489.52" cy="31.2" r="2.5"/><circle cx="496.1" cy="32.5" r="2.5"/><circle cx="502.68" cy="33.84" r="2.5"/><circle cx="509.26" cy="35.54" r="2.5"/><circle cx="515.84" cy="37.16" r="2.5"/><circle cx="522.42" cy="39.31" r="2.5"/><circle cx="529" cy="41.53" r="2.5"/><circle cx="535.58" cy="43.87" r="2.5"/><circle cx="542.16" cy="46.46" r="2.5"/><circle cx="548.74" cy="48.92" r="2.5"/><circle cx="555.32" cy="51.41" r="2.5"/><circle cx="561.9" cy="54.35" r="2.5"/><circle cx="568.48" cy="57.39" r="2.5"/><circle cx="575.06" cy="60.63" r="2.5"/><circle cx="581.64" cy="64.11" r="2.5"/><circle cx="588.22" cy="68.05" r="2.5"/><circle cx="594.8" cy="71.73" r="2.5"/><circle cx="601.38" cy="75.6" r="2.5"/><circle cx="607.96" cy="78.81" r="2.5"/></g>
<path d="M361.6 35.8 L363.15 35.41 L364.7 35.03 L366.24 34.65 L367.79 34.27 L369.34 33.91 L370.89 33.55 L372.43 33.21 L373.98 32.88 L375.53 32.56 L377.08 32.24 L378.63 31.89 L380.17 31.52 L381.72 31.15 L383.27 30.8 L384.82 30.47 L386.36 30.16 L387.91 29.87 L389.46 29.6 L391.01 29.37 L392.56 29.16 L394.1 28.97 L395.65 28.81 L397.2 28.71 L398.75 28.63 L400.29 28.57 L401.84 28.52 L403.39 28.5 L404.94 28.53 L406.49 28.61 L408.03 28.73 L409.58 28.86 L411.13 29.02 L412.68 29.24 L414.23 29.51 L415.77 29.8 L417.32 30.08 L418.87 30.37 L420.42 30.67 L421.96 30.99 L423.51 31.32 L425.06 31.66 L426.61 32.01 L428.16 32.37 L429.7 32.75 L431.25 33.15 L432.8 33.57 L434.35 34.01 L435.89 34.46 L437.44 34.9 L438.99 35.32 L440.54 35.74 L442.09 36.18 L443.63 36.64 L445.18 37.14 L446.73 37.66 L448.28 38.2 L449.82 38.74 L451.37 39.27 L452.92 39.8 L454.47 40.34 L456.02 40.91 L457.56 41.53 L459.11 42.19 L460.66 42.89 L462.21 43.6 L463.75 44.32 L465.3 45.05 L466.85 45.8 L468.4 46.55 L469.95 47.28 L471.49 47.97 L473.04 48.65 L474.59 49.33 L476.14 50 L477.68 50.7 L479.23 51.41 L480.78 52.12 L482.33 52.83 L483.88 53.52 L485.42 54.21 L486.97 54.88 L488.52 55.54 L490.07 56.19 L491.62 56.8 L493.16 57.4 L494.71 57.98 L496.26 58.57 L497.81 59.17 L499.35 59.77 L500.9 60.38 L502.45 60.96 L504 61.51 L505.55 62.04 L507.09 62.55 L508.64 63.04 L510.19 63.5 L511.74 63.94 L513.28 64.36 L514.83 64.78 L516.38 65.21 L517.93 65.65 L519.48 66.09 L521.02 66.52 L522.57 66.92 L524.12 67.29 L525.67 67.64 L527.21 68 L528.76 68.37 L530.31 68.75 L531.86 69.13 L533.41 69.54 L534.95 69.97 L536.5 70.45 L538.05 70.98 L539.6 71.54 L541.14 72.1 L542.69 72.64 L544.24 73.18 L545.79 73.71 L547.34 74.24 L548.88 74.76 L550.43 75.26 L551.98 75.74 L553.53 76.22 L555.07 76.72 L556.62 77.24 L558.17 77.77 L559.72 78.32 L561.27 78.89 L562.81 79.52 L564.36 80.24 L565.91 80.98 L567.46 81.68 L569.01 82.29 L570.55 82.82 L572.1 83.32 L573.65 83.79 L575.2 84.26 L576.74 84.7 L578.29 85.11 L579.84 85.53 L581.39 85.97 L582.94 86.47 L584.48 87.01 L586.03 87.58 L587.58 88.14 L589.13 88.69 L590.67 89.22 L592.22 89.76 L593.77 90.31 L595.32 90.88 L596.87 91.49 L598.41 92.12 L599.96 92.77 L601.51 93.43 L603.06 94.1 L604.6 94.79 L606.15 95.49 L607.7 96.2" fill="none" stroke="#0606d2" stroke-width="1.8" stroke-linejoin="round"/>
<g fill="#0606d2"><rect x="362.2" y="32.78" width="4.6" height="4.6"/><rect x="368.78" y="31.2" width="4.6" height="4.6"/><rect x="375.36" y="29.81" width="4.6" height="4.6"/><rect x="381.94" y="28.29" width="4.6" height="4.6"/><rect x="388.52" y="27.1" width="4.6" height="4.6"/><rect x="395.1" y="26.4" width="4.6" height="4.6"/><rect x="401.68" y="26.2" width="4.6" height="4.6"/><rect x="408.26" y="26.66" width="4.6" height="4.6"/><rect x="414.84" y="27.74" width="4.6" height="4.6"/><rect x="421.42" y="29.07" width="4.6" height="4.6"/><rect x="428" y="30.6" width="4.6" height="4.6"/><rect x="434.58" y="32.44" width="4.6" height="4.6"/><rect x="441.16" y="34.29" width="4.6" height="4.6"/><rect x="447.74" y="36.51" width="4.6" height="4.6"/><rect x="454.32" y="38.85" width="4.6" height="4.6"/><rect x="460.9" y="41.76" width="4.6" height="4.6"/><rect x="467.48" y="44.9" width="4.6" height="4.6"/><rect x="474.06" y="47.8" width="4.6" height="4.6"/><rect x="480.64" y="50.81" width="4.6" height="4.6"/><rect x="487.22" y="53.66" width="4.6" height="4.6"/><rect x="493.8" y="56.21" width="4.6" height="4.6"/><rect x="500.38" y="58.74" width="4.6" height="4.6"/><rect x="506.96" y="60.93" width="4.6" height="4.6"/><rect x="513.54" y="62.76" width="4.6" height="4.6"/><rect x="520.12" y="64.58" width="4.6" height="4.6"/><rect x="526.7" y="66.12" width="4.6" height="4.6"/><rect x="533.28" y="67.85" width="4.6" height="4.6"/><rect x="539.86" y="70.16" width="4.6" height="4.6"/><rect x="546.44" y="72.41" width="4.6" height="4.6"/><rect x="553.02" y="74.51" width="4.6" height="4.6"/><rect x="559.6" y="76.84" width="4.6" height="4.6"/><rect x="566.18" y="79.79" width="4.6" height="4.6"/><rect x="572.76" y="81.92" width="4.6" height="4.6"/><rect x="579.34" y="83.75" width="4.6" height="4.6"/><rect x="585.92" y="86.07" width="4.6" height="4.6"/><rect x="592.5" y="88.39" width="4.6" height="4.6"/><rect x="599.08" y="91.08" width="4.6" height="4.6"/><rect x="605.66" y="94.02" width="4.6" height="4.6"/></g>
<line x1="522.1" y1="165.7" x2="546.1" y2="165.7" stroke="#000000" stroke-width="1.9"/>
<g fill="#000000"><circle cx="534.6" cy="165.7" r="2.3"/></g>
<text x="548.6" y="169.3" font-size="9.3" text-anchor="start" fill="#000000" stroke="#000000" >30 wt % IL</text>
<line x1="522.1" y1="176.1" x2="546.1" y2="176.1" stroke="#0606d2" stroke-width="1.9"/>
<g fill="#0606d2"><rect x="532.5" y="174" width="4.2" height="4.2"/></g>
<text x="548.6" y="179.7" font-size="9.3" text-anchor="start" fill="#0606d2" stroke="#0606d2" >20 wt % IL</text>
<line x1="522.1" y1="186.5" x2="546.1" y2="186.5" stroke="#e81212" stroke-width="1.9"/>
<g fill="#e81212"><path d="M534.6 184.29L536.38 187.94L532.82 187.94Z"/></g>
<text x="548.6" y="190.1" font-size="9.3" text-anchor="start" fill="#e81212" stroke="#e81212" >5 wt % IL</text>
<line x1="522.1" y1="196.9" x2="546.1" y2="196.9" stroke="#0d6b16" stroke-width="1.9"/>
<g fill="#0d6b16"><path d="M534.6 195.03L536.47 196.9L534.6 198.77L532.73 196.9Z"/></g>
<text x="548.6" y="200.5" font-size="9.3" text-anchor="start" fill="#0d6b16" stroke="#0d6b16" >0 wt % IL</text>
</svg>
</body></html>
